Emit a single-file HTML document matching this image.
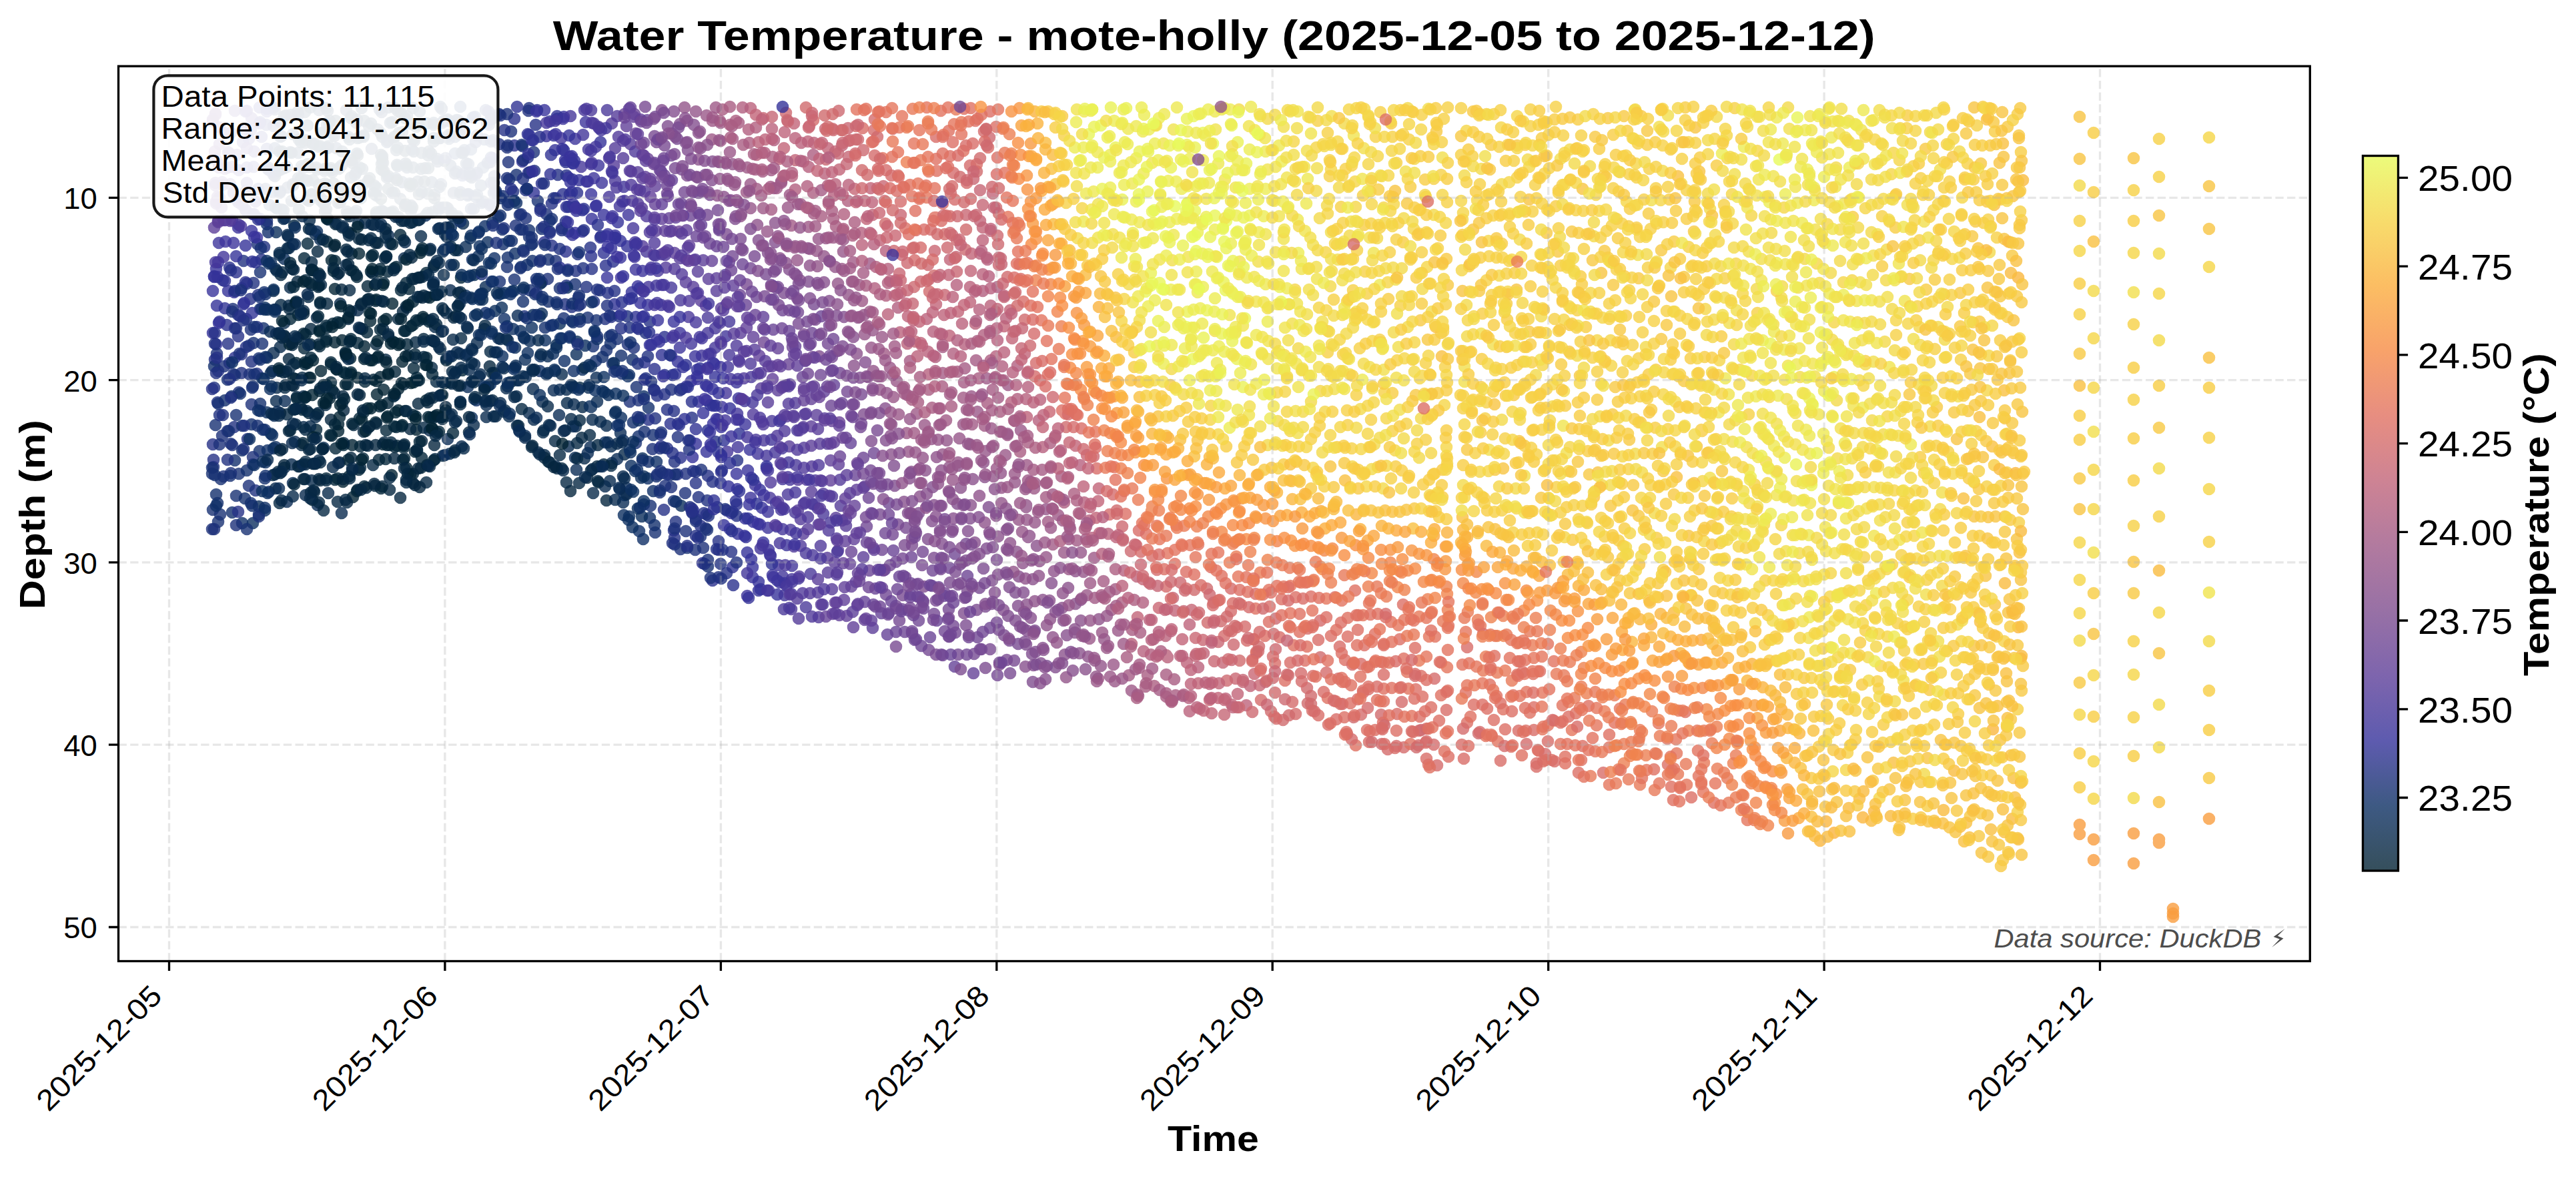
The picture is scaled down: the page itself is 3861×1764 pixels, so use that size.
<!DOCTYPE html><html><head><meta charset="utf-8"><style>html,body{margin:0;padding:0;background:#fff;width:3861px;height:1764px;overflow:hidden}svg{display:block}text{font-family:"Liberation Sans",sans-serif}</style></head><body><svg width="3861" height="1764" viewBox="0 0 3861 1764"><rect width="3861" height="1764" fill="#fff"/><defs><linearGradient id="cb" x1="0" y1="1" x2="0" y2="0"><stop offset="0.0000" stop-color="#032333"/><stop offset="0.0909" stop-color="#0d3064"/><stop offset="0.1818" stop-color="#35329b"/><stop offset="0.2727" stop-color="#5d3e99"/><stop offset="0.3636" stop-color="#7e4d8f"/><stop offset="0.4545" stop-color="#9e5987"/><stop offset="0.5455" stop-color="#c16479"/><stop offset="0.6364" stop-color="#e17161"/><stop offset="0.7273" stop-color="#f68b45"/><stop offset="0.8182" stop-color="#fbad3c"/><stop offset="0.9091" stop-color="#f6d346"/><stop offset="1.0000" stop-color="#e7fa5a"/></linearGradient></defs><g fill="none" stroke-width="18.6" stroke-linecap="round" stroke-opacity="0.8"><path d="M639 600h0M661 592h0M616 489h0M603 637h0M624 644h0M574 666h0M528 667h0M510 484h0M564 449h0M588 455h0M570 565h0M669 540h0M529 745h0M556 407h0M475 621h0M523 714h0M494 597h0M447 472h0M546 519h0M502 513h0M502 433h0M575 481h0M599 515h0M540 492h0M507 646h0M457 543h0M554 639h0M558 540h0M525 537h0M607 616h0M497 390h0M565 591h0M555 481h0M481 556h0" stroke="#032333"/><path d="M551 429h0M575 424h0M579 645h0M595 668h0M503 672h0M490 491h0M542 455h0M897 723h0M526 558h0M547 572h0M592 557h0M541 297h0M503 336h0M628 570h0M590 594h0M569 609h0M545 618h0M474 644h0M435 645h0M581 407h0M453 614h0M691 416h0M490 362h0M502 719h0M538 704h0M609 424h0M601 435h0M496 573h0M479 586h0M526 508h0M456 522h0M668 615h0M604 689h0M578 688h0M693 555h0M622 677h0M461 365h0M608 306h0M571 298h0M456 387h0M559 382h0M620 552h0M623 624h0" stroke="#042539"/><path d="M607 226h0M551 668h0M572 246h0M466 493h0M526 467h0M765 573h0M505 554h0M573 729h0M519 288h0M880 716h0M895 699h0M487 317h0M522 348h0M605 576h0M530 637h0M629 445h0M609 459h0M597 478h0M458 420h0M617 386h0M480 720h0M612 533h0M909 750h0M734 549h0M478 516h0M582 504h0M429 557h0M652 624h0M798 668h0M619 724h0M615 711h0M514 594h0M515 615h0M496 629h0M682 675h0M644 699h0M433 538h0M703 648h0M527 380h0M490 455h0M469 405h0M651 667h0M414 500h0M855 736h0M476 377h0M526 686h0" stroke="#05263e"/><path d="M582 264h0M487 253h0M574 317h0M597 325h0M452 667h0M506 752h0M549 731h0M458 270h0M500 275h0M480 296h0M478 428h0M438 577h0M453 566h0M430 621h0M448 314h0M458 696h0M420 709h0M629 416h0M738 600h0M654 572h0M647 551h0M635 535h0M493 185h0M534 412h0M524 435h0M623 513h0M647 510h0M553 360h0M735 527h0M628 291h0M639 723h0M559 697h0M832 661h0M872 656h0M664 683h0M640 697h0M578 539h0M440 404h0M461 188h0M591 289h0M536 591h0M506 411h0M691 507h0M839 682h0" stroke="#062844"/><path d="M652 490h0M635 478h0M433 458h0M536 207h0M640 185h0M632 229h0M509 251h0M445 506h0M618 333h0M936 681h0M535 179h0M573 205h0M652 442h0M455 640h0M534 258h0M435 431h0M858 578h0M415 581h0M464 330h0M478 690h0M457 718h0M650 400h0M757 615h0M677 575h0M455 594h0M669 469h0M876 687h0M519 397h0M929 733h0M480 219h0M457 214h0M727 581h0M426 484h0M684 631h0M816 682h0M823 637h0M889 739h0M850 604h0M873 610h0M425 315h0M863 639h0M547 334h0M431 372h0M499 700h0M527 240h0M561 278h0M542 162h0M501 204h0M755 552h0" stroke="#08294a"/><path d="M617 186h0M601 169h0M670 205h0M650 207h0M644 645h0M626 272h0M463 250h0M694 335h0M914 721h0M664 377h0M686 375h0M759 508h0M708 525h0M689 530h0M645 373h0M457 168h0M917 694h0M556 185h0M591 205h0M675 435h0M793 619h0M410 621h0M473 351h0M437 696h0M413 403h0M423 227h0M813 602h0M799 583h0M888 629h0M909 638h0M718 564h0M691 477h0M925 665h0M743 568h0M408 556h0M458 742h0M651 292h0M775 638h0M833 699h0M852 669h0M711 546h0M410 529h0M582 353h0M571 336h0M432 354h0M482 199h0M631 253h0M609 248h0M619 209h0M729 625h0M607 363h0M507 304h0M512 769h0" stroke="#092b4f"/><path d="M411 464h0M582 161h0M675 248h0M647 273h0M603 273h0M677 319h0M788 565h0M436 172h0M478 277h0M728 430h0M882 581h0M839 584h0M410 672h0M711 412h0M447 229h0M427 601h0M885 670h0M930 649h0M934 753h0M504 222h0M430 752h0M476 757h0M787 653h0M619 162h0M895 602h0M859 639h0M534 316h0M864 704h0M671 658h0M610 251h0M421 254h0M668 341h0M679 353h0M543 278h0M585 184h0M772 551h0" stroke="#0a2c55"/><path d="M655 238h0M839 485h0M752 461h0M638 323h0M832 556h0M718 502h0M478 165h0M420 183h0M694 229h0M420 287h0M439 276h0M460 299h0M519 165h0M719 449h0M698 443h0M736 395h0M701 580h0M865 512h0M1021 758h0M956 762h0M717 384h0M794 511h0M414 348h0M812 470h0M690 292h0M426 388h0M707 626h0M772 521h0M662 163h0M557 223h0" stroke="#0b2e5b"/><path d="M663 184h0M952 706h0M658 314h0M942 779h0M924 555h0M923 590h0M903 586h0M390 616h0M873 554h0M810 534h0M829 530h0M907 663h0M931 626h0M949 737h0M439 201h0M731 363h0M760 489h0M780 496h0M817 510h0M397 765h0M379 784h0M753 534h0M706 353h0M420 205h0M756 439h0M791 529h0M797 491h0M905 565h0" stroke="#0c2f60"/><path d="M686 180h0M857 481h0M993 709h0M971 717h0M809 556h0M737 500h0M958 796h0M943 562h0M813 449h0M965 594h0M714 600h0M772 380h0M842 507h0M891 498h0M974 776h0M363 784h0M747 325h0M727 339h0M979 736h0M702 246h0" stroke="#0f3066"/><path d="M390 463h0M715 259h0M731 244h0M817 491h0M728 469h0M790 397h0M726 209h0M397 644h0M377 636h0M972 692h0M743 286h0M389 676h0M398 441h0M397 717h0M960 626h0M914 504h0M893 541h0M793 345h0M796 367h0M403 737h0M754 366h0M400 336h0M404 307h0M713 295h0M948 539h0M347 594h0M324 741h0M348 768h0M753 344h0M352 690h0M402 254h0M690 160h0M395 492h0M784 452h0" stroke="#13306d"/><path d="M806 301h0M691 197h0M881 476h0M810 390h0M794 435h0M834 453h0M867 446h0M398 283h0M953 664h0M966 647h0M762 303h0M749 422h0M358 710h0M380 514h0M812 423h0M341 569h0M909 525h0M760 400h0M889 519h0M1030 821h0M975 758h0M982 798h0M354 743h0M376 754h0M388 537h0M323 637h0M774 262h0M319 764h0M327 782h0M354 622h0M812 343h0" stroke="#183173"/><path d="M819 321h0M349 463h0M693 263h0M833 391h0M899 435h0M713 213h0M333 653h0M741 264h0M944 602h0M335 714h0M320 700h0M377 606h0M773 338h0M1054 821h0M1011 816h0M346 665h0M786 474h0M735 308h0M950 521h0M728 165h0M788 327h0M762 243h0M997 728h0M978 673h0M376 494h0M766 197h0" stroke="#1d3179"/><path d="M788 285h0M369 478h0M928 474h0M907 478h0M874 402h0M1077 865h0M857 460h0M748 216h0M351 640h0M362 432h0M380 424h0M379 696h0M1075 760h0M1060 750h0M365 391h0M982 627h0M385 560h0M362 559h0M1038 769h0M1019 585h0M980 584h0M968 567h0M383 735h0M396 370h0M1083 824h0M890 452h0M352 492h0M750 173h0M733 187h0M371 658h0M334 622h0M849 428h0M326 603h0M793 162h0M968 499h0M944 491h0M321 581h0M1016 655h0M1080 845h0" stroke="#213180"/><path d="M827 368h0M974 482h0M400 163h0M1061 713h0M1039 706h0M1015 711h0M851 404h0M921 436h0M399 187h0M990 651h0M319 666h0M862 310h0M375 448h0M362 531h0M344 544h0M327 556h0M322 539h0M392 389h0M400 223h0M842 342h0M836 262h0M1010 795h0M1050 788h0M996 591h0M885 371h0M1077 811h0M1037 626h0M1016 635h0M1010 616h0M791 236h0M1000 672h0M1105 690h0M342 515h0M995 764h0M1059 771h0" stroke="#263186"/><path d="M848 377h0M1080 724h0M908 398h0M1066 669h0M771 218h0M858 269h0M1061 645h0M996 505h0M329 482h0M792 259h0M966 543h0M771 178h0M996 562h0M1020 686h0M1099 877h0M848 243h0M1053 844h0M1081 707h0M812 275h0M354 408h0" stroke="#2a318d"/><path d="M953 475h0M1098 850h0M1085 660h0M1108 650h0M992 532h0M921 456h0M1049 552h0M799 210h0M1094 793h0M1126 716h0M824 182h0M976 517h0M1103 751h0M905 379h0" stroke="#2f3293"/><path d="M325 458h0M911 351h0M930 361h0M1105 733h0M833 297h0M1047 602h0M1094 612h0M832 225h0M1016 542h0M1140 883h0M1120 828h0M342 436h0M864 316h0M324 516h0M1117 777h0M1096 769h0M879 272h0M943 448h0M1118 805h0M926 333h0M900 213h0M1043 665h0M1038 685h0M326 415h0M1068 583h0M1054 619h0" stroke="#343299"/><path d="M971 457h0M930 386h0M1084 567h0M1069 608h0M1107 629h0M1165 891h0M1128 865h0M1128 850h0M1164 789h0M1155 833h0M1144 813h0M862 349h0M956 429h0M1081 640h0M1036 571h0M905 322h0M381 355h0M1139 734h0M1142 761h0M379 321h0M845 175h0M1010 482h0M816 165h0M327 393h0M887 328h0" stroke="#38339b"/><path d="M878 183h0M952 367h0M1107 597h0M854 291h0M1104 573h0M350 364h0M328 364h0M1139 786h0M902 274h0M953 404h0M975 404h0M1076 629h0M862 208h0M819 204h0M1179 817h0M1125 746h0M1019 499h0M1158 862h0M1120 893h0" stroke="#3d349b"/><path d="M991 457h0M1156 659h0M1187 848h0M1167 847h0M995 427h0M1071 546h0M841 207h0M1052 507h0M1136 680h0M1088 504h0M1052 533h0M935 280h0M882 224h0M1036 515h0M1173 864h0M381 227h0M931 416h0M1106 670h0M383 302h0" stroke="#42369a"/><path d="M898 192h0M1128 603h0M1186 890h0M370 251h0M972 430h0M1091 550h0M1093 482h0M1072 492h0M1184 719h0M876 165h0M1162 678h0M1171 764h0M1072 521h0M363 307h0M350 289h0M1172 696h0M1187 868h0M364 213h0M376 195h0M949 342h0M1088 589h0M1192 738h0M871 250h0M369 286h0M913 295h0M1090 677h0" stroke="#46379a"/><path d="M969 377h0M936 301h0M1205 755h0M1133 659h0M1126 565h0M1245 783h0M1185 794h0M348 330h0M1157 631h0M1139 626h0M1218 832h0M1154 746h0M1020 450h0M922 271h0M1193 697h0M1032 475h0M887 244h0M1215 860h0" stroke="#4b399a"/><path d="M969 324h0M1226 762h0M1176 646h0M1203 889h0M1200 818h0M1232 721h0M927 205h0M1233 906h0M1186 913h0M1230 818h0M1125 545h0M981 364h0M1104 518h0" stroke="#503a9a"/><path d="M1260 758h0M917 185h0M992 381h0M956 305h0M1254 807h0M377 177h0M1226 888h0M998 401h0M1022 411h0M1192 604h0M1227 925h0M1259 719h0M1209 719h0M1205 671h0M920 248h0M1217 699h0M944 256h0M1234 740h0M1089 456h0M1200 778h0M1254 861h0M1108 542h0M1197 927h0M922 222h0M1227 786h0" stroke="#543b99"/><path d="M1274 739h0M1074 436h0M1029 389h0M1141 582h0M1247 883h0M1236 627h0M1262 780h0M1119 526h0M1204 800h0M1179 624h0M1039 430h0M1051 451h0M1240 836h0M1177 578h0M983 346h0M1229 665h0M1183 669h0M945 216h0M955 284h0M1087 412h0M1151 603h0M1204 640h0M1226 643h0M1206 621h0M1216 737h0" stroke="#593d99"/><path d="M1011 379h0M1054 390h0M346 199h0M348 250h0M1268 778h0M327 333h0M1174 579h0M1007 346h0M1110 499h0M334 277h0M1254 903h0M1062 418h0M1308 941h0M1294 835h0M1217 580h0" stroke="#5d3e99"/><path d="M1099 428h0M1158 568h0M1013 326h0M992 328h0M1280 808h0M328 246h0M1157 549h0M1138 533h0M1235 587h0M1248 920h0M1269 923h0M1285 907h0M1029 345h0M1250 663h0M1144 475h0M1124 479h0M992 306h0M975 295h0M1257 696h0M967 265h0M982 279h0M939 189h0M324 305h0M1279 940h0M343 229h0M1129 505h0" stroke="#614098"/><path d="M1296 729h0M1330 951h0M1281 758h0M1216 598h0M1250 577h0M1321 919h0M1264 844h0M1326 854h0M1289 862h0M1276 879h0M1275 664h0M1166 522h0M1296 929h0M1459 1009h0M1431 999h0M1051 337h0" stroke="#654297"/><path d="M936 171h0M951 171h0M970 180h0M1373 958h0M1074 369h0M1348 864h0M1258 633h0M1312 882h0M1207 541h0M1182 546h0M1309 906h0M1282 712h0M1159 494h0M1183 496h0M1303 855h0M1309 821h0M963 232h0M1093 393h0M1118 457h0M1203 565h0M1259 606h0M1394 955h0M1213 517h0M953 200h0M1276 827h0M1339 825h0" stroke="#694395"/><path d="M1134 445h0M1159 449h0M1356 947h0M1035 323h0M1365 874h0M1407 880h0M1306 769h0M329 191h0M323 170h0M1362 915h0M1384 912h0M1188 520h0M1366 835h0M980 246h0M996 263h0M1000 278h0M1450 863h0M1276 623h0" stroke="#6d4594"/><path d="M1321 729h0M1332 754h0M1310 679h0M1173 465h0M1413 982h0M1057 354h0M1465 955h0M1484 941h0M1423 954h0M1299 789h0M1332 771h0M1398 855h0M1423 851h0M322 227h0M1328 891h0M1377 930h0M1431 830h0M1375 894h0M1156 427h0M1343 842h0M1285 694h0M1145 513h0M1217 499h0M995 237h0M965 214h0" stroke="#704793"/><path d="M1196 468h0M1460 980h0M1436 981h0M1392 974h0M1060 322h0M1424 894h0M1422 913h0M1429 938h0M1422 954h0M1125 402h0M1343 908h0M1039 288h0M1247 535h0M1270 587h0M1259 559h0M1305 705h0M1498 993h0M1077 336h0M1383 827h0M1338 801h0M1076 315h0M1241 515h0M1400 920h0" stroke="#744992"/><path d="M1468 881h0M1119 426h0M1484 973h0M1197 485h0M1497 944h0M1513 960h0M1346 786h0M1439 846h0M1022 254h0M1015 208h0M1148 411h0M1064 292h0M1291 591h0M1448 815h0M1353 892h0M1279 566h0M996 218h0M981 204h0M1520 990h0M1220 456h0M1403 900h0M1243 488h0M1382 847h0M1514 1009h0M967 160h0" stroke="#784a91"/><path d="M1464 914h0M1486 905h0M1450 886h0M1222 479h0M1263 519h0M1306 618h0M1175 439h0M1110 358h0M1089 351h0M1356 817h0M1400 836h0M1424 873h0M1035 306h0" stroke="#7c4c90"/><path d="M1341 728h0M1445 919h0M1522 930h0M1487 870h0M1508 858h0M1538 966h0M1225 424h0M1385 879h0M1457 837h0M1479 822h0M1044 265h0M1031 225h0M1001 189h0M1377 769h0M1371 778h0M1228 534h0M1391 808h0M1548 1022h0M1195 447h0M1522 888h0M1427 797h0M1340 698h0" stroke="#804e8f"/><path d="M1504 914h0M1539 945h0M1398 730h0M1560 994h0M1582 1000h0M992 165h0M1241 470h0M1265 475h0M1137 360h0M1151 379h0M1183 404h0M1067 270h0M1068 242h0M1526 908h0M1435 755h0M1412 815h0M1454 777h0M1367 807h0M1243 451h0M1511 792h0M1162 363h0M1491 888h0" stroke="#834f8e"/><path d="M1363 717h0M1355 752h0M1537 999h0M1527 864h0M1599 952h0M1199 420h0M1400 757h0M1106 303h0M1327 612h0M1545 926h0M1567 1018h0M1429 777h0M1403 774h0M1279 505h0M1301 565h0M1050 222h0M1576 874h0M1563 971h0" stroke="#87508d"/><path d="M1379 744h0M1596 981h0M1618 979h0M1548 868h0M1336 681h0M1169 387h0M1047 239h0M1335 653h0M1554 818h0M1244 392h0M1202 371h0M1517 771h0M1085 295h0M1284 530h0M1620 930h0M1573 900h0M1524 827h0M1455 757h0M1592 911h0M1612 905h0M1476 715h0M1162 334h0M1049 197h0M1030 181h0M1601 881h0M1458 718h0M1440 731h0M1496 804h0M1280 548h0" stroke="#8b528c"/><path d="M1286 476h0M1088 245h0M1647 928h0M1551 901h0M1558 841h0M1533 844h0M1514 814h0M1580 856h0M1422 736h0M1574 928h0M1476 783h0M1317 564h0M1578 955h0M1135 337h0M1474 693h0M1336 636h0" stroke="#8f538b"/><path d="M1423 700h0M1641 990h0M1383 686h0M1624 951h0M1092 271h0M1109 249h0M1179 368h0M1501 754h0M1385 660h0M1319 584h0M1110 324h0M1500 709h0M1256 425h0M1272 442h0M1225 399h0M1538 757h0M1538 760h0M1598 1015h0M1026 161h0M1043 167h0" stroke="#92558a"/><path d="M1377 704h0M1449 694h0M1306 521h0M1362 677h0M1501 731h0M1521 723h0M1224 376h0M1539 779h0M1125 312h0M1568 763h0M1603 789h0M1454 666h0M1477 676h0M1406 659h0M1624 857h0M1532 797h0M1413 681h0M1238 357h0M1620 828h0M1308 495h0M1264 377h0" stroke="#965689"/><path d="M1409 715h0M1344 571h0M1334 551h0M1530 645h0M1526 700h0M1671 1021h0M1661 968h0M1652 948h0M1262 403h0M1465 617h0M1456 594h0M1386 637h0M1347 621h0M1339 595h0M1602 853h0M1125 276h0M1629 892h0M1653 895h0M1595 828h0M1301 489h0M1094 228h0" stroke="#9a5788"/><path d="M1360 592h0M1304 467h0M1511 577h0M1288 427h0M1359 649h0M1602 808h0M1304 395h0M1550 732h0M1541 720h0M1586 772h0M1260 358h0M1500 692h0M1212 340h0M1067 209h0M1068 181h0M1171 272h0M1640 836h0M1588 746h0M1374 620h0M1292 451h0M1184 292h0M1696 1035h0" stroke="#9d5987"/><path d="M1325 530h0M1575 701h0M1156 255h0M1628 808h0M1578 816h0M1279 393h0M1476 638h0M1499 647h0M1666 914h0M1141 293h0M1474 548h0M1186 338h0M1155 280h0M1457 636h0M1418 630h0M1571 782h0M1341 519h0M1680 936h0M1424 591h0" stroke="#a15a86"/><path d="M1413 559h0M1445 573h0M1549 704h0M1132 254h0M1708 996h0M1692 1012h0M1156 314h0M1672 883h0M1628 789h0M1654 871h0M1568 745h0M1364 541h0M1212 312h0M1097 189h0M1413 520h0M1488 584h0" stroke="#a55b84"/><path d="M1435 557h0M1376 603h0M1541 663h0M1484 496h0M1465 511h0M1467 567h0M1591 714h0M1499 617h0M1480 604h0M1253 339h0M1247 316h0M1412 579h0M1392 584h0M1762 1042h0M1748 1039h0M1720 1012h0M1709 948h0M1397 611h0M1748 1011h0M1231 324h0M1529 624h0M1529 677h0M1083 164h0M1569 723h0" stroke="#a95d82"/><path d="M1495 430h0M1492 565h0M1682 903h0M1700 899h0M1123 214h0M1610 740h0M1730 1028h0M1219 289h0M1661 834h0M1219 232h0" stroke="#ad5e81"/><path d="M1402 535h0M1146 229h0M1473 436h0M1328 443h0M1311 432h0M1321 404h0M1271 301h0M1588 677h0M1122 194h0M1525 548h0M1241 278h0M1725 981h0M1429 530h0M1265 321h0" stroke="#b25f7f"/><path d="M1392 561h0M1685 855h0M1212 250h0M1563 670h0M1446 516h0M1399 497h0M1619 697h0M1291 349h0M1538 598h0M1516 603h0M1625 753h0M1250 293h0M1493 534h0M1782 1046h0M1737 952h0M1187 264h0M1557 630h0M1484 472h0M1434 427h0M1468 464h0" stroke="#b6607e"/><path d="M1125 162h0M1360 515h0M1469 380h0M1236 260h0M1454 430h0M1389 478h0M1769 983h0M1192 207h0M1559 599h0M1540 559h0M1292 367h0M1755 946h0M1349 498h0M1748 982h0M1750 985h0M1334 421h0M1794 1060h0M1473 411h0M1485 458h0M1462 485h0M1696 965h0M1157 193h0" stroke="#ba627c"/><path d="M1704 864h0M1382 518h0M1168 238h0M1423 503h0M1350 439h0M1369 480h0M1522 496h0M1673 805h0M1648 799h0M1785 1004h0M1211 212h0M1147 209h0M1868 1057h0M1624 729h0M1726 929h0M1358 455h0M1454 453h0M1415 472h0" stroke="#be637a"/><path d="M1319 360h0M1258 254h0M1192 240h0M1581 656h0M1305 282h0M1514 465h0M1505 489h0M1409 412h0M1403 456h0M1816 960h0M1232 214h0M1646 751h0M1761 915h0M1296 301h0M1826 1046h0M1846 1056h0M1796 1024h0M1817 1023h0M1485 346h0M1469 331h0M1643 776h0M1536 530h0M1488 290h0M1455 406h0M1705 925h0M1436 467h0M1816 1069h0M1308 322h0M1612 668h0M1647 732h0M1175 222h0M1855 1040h0" stroke="#c26478"/><path d="M1724 875h0M1272 235h0M1281 283h0M1252 227h0M1833 993h0M1786 914h0M1863 1022h0M1180 180h0M1497 386h0M1433 385h0M1793 980h0M1758 896h0" stroke="#c56676"/><path d="M1144 177h0M1342 353h0M1350 322h0M1324 279h0M1434 407h0M1392 419h0M1416 442h0M1237 193h0M1792 956h0M1272 211h0M1737 911h0M1212 191h0M1217 169h0M1888 1027h0M1448 322h0M1401 376h0M1348 410h0M1573 617h0M1629 682h0M1880 1010h0M1710 846h0M1238 239h0" stroke="#c96773"/><path d="M1769 873h0M1447 374h0M1434 360h0M1294 225h0M1912 927h0M1370 430h0M1261 195h0M1695 826h0M1839 1020h0M1908 1016h0M1912 973h0M1496 366h0M1340 376h0M1544 518h0M1391 397h0M1483 206h0M1257 166h0M1849 966h0M1522 438h0" stroke="#cd6970"/><path d="M1790 884h0M1809 882h0M1979 985h0M1510 415h0M1598 640h0M1393 437h0M2070 1071h0M2012 1055h0M1536 479h0M1445 303h0M1425 290h0M1854 940h0M1923 1079h0M1905 1066h0M1858 990h0M1464 257h0M1830 931h0M1810 933h0M1497 320h0M1959 1031h0M1960 1054h0M1292 255h0M1236 173h0M1327 335h0M1370 371h0M2019 1100h0M1931 1012h0M1911 1038h0" stroke="#d06a6d"/><path d="M1748 879h0M1819 903h0M1416 351h0M1395 344h0M2150 1017h0M2040 1071h0M1413 305h0M1283 189h0M1311 179h0M1310 195h0M1845 882h0M1835 953h0M1942 1070h0M1890 1049h0M1328 255h0M1449 274h0M1429 259h0M1559 570h0M1710 827h0M1937 1052h0M1845 916h0M1424 324h0M1663 771h0M1371 390h0M1988 1008h0M2006 1017h0M1879 958h0M1883 977h0M1950 1009h0M2080 1123h0M2104 1120h0M2126 1117h0M2149 1116h0M1553 544h0M1979 930h0M2154 1147h0M1668 741h0M2288 1115h0M1350 302h0" stroke="#d46c6b"/><path d="M1934 993h0M1373 345h0M1530 418h0M1621 642h0M2040 995h0M2008 969h0M1344 286h0M1534 452h0M1644 702h0M2094 1070h0M2072 1093h0M2035 1048h0M2051 1033h0M1458 215h0M2276 1095h0M2299 1094h0M2199 970h0M1494 261h0M1403 205h0M1346 263h0M1464 246h0M1727 833h0M1911 994h0M1903 909h0M2403 1158h0M1918 955h0M1879 958h0M2191 1116h0M1976 1072h0M1960 942h0M2138 1137h0M2303 1149h0M2127 1095h0M1481 221h0M1338 193h0M2249 1140h0M2052 1112h0M2194 1137h0M1968 1013h0" stroke="#d86d68"/><path d="M1956 990h0M1357 342h0M2265 1119h0M2061 992h0M2016 989h0M2130 1013h0M2209 1056h0M2229 1062h0M2015 1075h0M2136 1066h0M2049 1094h0M1965 894h0M1942 895h0M1921 898h0M2122 1033h0M2132 1044h0M2372 1118h0M1424 234h0M1893 891h0M1815 850h0M2098 958h0M2074 967h0M2366 1158h0M1462 181h0M1484 167h0M2199 1083h0M1860 906h0M2045 967h0M1687 770h0M2093 1095h0M1896 953h0M1883 979h0M1495 236h0M2299 1060h0M1592 615h0M1597 620h0M1613 621h0M2500 1146h0M2326 1139h0M2256 1093h0M2103 906h0M1428 213h0M1745 853h0M2171 1134h0M2121 971h0" stroke="#dc6f65"/><path d="M2104 987h0M2569 1203h0M2031 885h0M1990 1046h0M2074 1032h0M1307 213h0M2171 938h0M2253 1063h0M2243 1043h0M2233 1026h0M2197 1038h0M1403 238h0M1444 226h0M1957 873h0M1870 887h0M1831 863h0M2362 1069h0M2381 1058h0M1422 196h0M1404 256h0M2268 1042h0M1718 800h0M2145 919h0M2065 920h0M2020 926h0M2003 944h0M1882 912h0M2061 950h0M1403 326h0M1401 326h0M1455 162h0M2025 1027h0M1959 969h0M1939 967h0M2479 1153h0M2293 1068h0M1790 861h0M2274 1011h0M2298 1010h0M2306 1125h0M1685 736h0M2508 1199h0M2170 1035h0M2032 1117h0M2346 1134h0M1761 845h0M2074 1051h0M2370 1139h0M1932 938h0" stroke="#df7062"/><path d="M1934 919h0M2245 1111h0M2227 1103h0M2329 991h0M2082 993h0M2109 1007h0M1388 278h0M1364 277h0M1555 460h0M2546 1163h0M2545 1125h0M1670 700h0M1994 1084h0M1367 294h0M2116 1073h0M2011 900h0M2098 1031h0M1328 168h0M2349 1115h0M2412 1120h0M1561 480h0M1914 878h0M2320 1087h0M2342 1081h0M2420 1083h0M1526 377h0M2263 986h0M2286 989h0M2288 1037h0M1796 816h0M1772 818h0M1750 829h0M2085 932h0M2320 965h0M2151 954h0M1868 865h0M1410 166h0M1528 396h0M2202 994h0M1323 237h0M1576 538h0M2147 1090h0M1295 165h0M1509 296h0M2160 993h0M1548 437h0M1967 915h0" stroke="#e2735f"/><path d="M1642 647h0M2553 1187h0M1389 296h0M1988 897h0M2391 1126h0M1934 878h0M2197 947h0M2619 1229h0M2512 1108h0M2518 1179h0M2311 984h0M2312 1038h0M1712 784h0M1738 808h0M2105 929h0M2043 922h0M2234 951h0M2219 938h0M2142 954h0M1389 161h0M1511 325h0M1370 215h0M1346 228h0M2513 1129h0M1957 938h0M2412 1176h0M2486 1084h0M2356 1094h0M2393 1087h0M1378 195h0M1816 830h0M1734 788h0" stroke="#e5765c"/><path d="M2127 990h0M2591 1203h0M2554 1143h0M2210 1027h0M2457 1106h0M1380 240h0M2119 951h0M2554 1095h0M2384 1163h0M1441 183h0M2015 862h0M2127 924h0M1368 163h0M1433 164h0M1524 357h0M2426 1153h0M2244 1008h0M2223 1005h0M2516 1065h0M2457 1155h0M2458 1176h0M2293 946h0M2589 1166h0M2351 1052h0M2515 1160h0M1503 193h0M1871 847h0M2480 1184h0M2333 1010h0M2441 1168h0" stroke="#e77959"/><path d="M2353 992h0M1775 788h0M2434 1115h0M2420 1042h0M2405 1066h0M2488 1103h0M2476 1066h0M2436 1056h0M2566 1114h0M2297 967h0M2276 963h0M2200 917h0M1889 858h0M1528 338h0M2227 984h0M1843 843h0M2070 889h0M2574 1152h0M1922 847h0M1595 550h0M1359 191h0M2349 1021h0M1706 749h0" stroke="#ea7c56"/><path d="M1794 789h0M2170 914h0M2402 1045h0M2378 1039h0M2267 924h0M2245 918h0M1359 243h0M2444 1082h0M2610 1214h0M1848 815h0M2573 1089h0M2531 1095h0M1517 266h0M1391 182h0M1599 575h0M2467 1132h0M1995 873h0M2051 879h0M1945 851h0M1591 489h0M2140 898h0M2598 1144h0M2323 944h0M2339 972h0" stroke="#ec7f52"/><path d="M1553 420h0M2370 977h0M1753 778h0M1690 709h0M2374 1001h0M2641 1231h0M2456 1054h0M1630 607h0M2646 1179h0M2625 1174h0M1727 759h0M1726 766h0M2254 953h0M2098 856h0M1671 679h0M2443 1133h0M1550 399h0M1516 230h0M1900 839h0M1874 827h0" stroke="#ee824f"/><path d="M1914 811h0M1664 649h0M2611 1191h0M2156 873h0M2169 890h0M2034 853h0M2149 838h0M1585 467h0M2084 843h0M1979 849h0M2095 880h0M1520 248h0M2391 1017h0M1571 444h0" stroke="#f1854c"/><path d="M1997 822h0M1575 426h0M2213 857h0M1811 774h0M2134 872h0M2284 915h0M1831 797h0M2585 1116h0M2056 859h0M2212 888h0M2193 874h0M2324 915h0M1691 682h0M1982 853h0M2558 1063h0M2575 1070h0M2492 1044h0M2639 1141h0M1760 760h0M1613 559h0" stroke="#f38849"/><path d="M1954 815h0M1680 663h0M2520 1032h0M1862 787h0M1868 808h0M1546 366h0M1553 347h0M2380 941h0M1620 584h0M2231 884h0M2660 1214h0M1589 446h0M2121 852h0M1783 762h0M2261 899h0M2579 1046h0M2051 836h0" stroke="#f68b45"/><path d="M1976 820h0M2191 854h0M1830 762h0M2416 1006h0M2396 994h0M2480 1020h0M2456 1017h0M2435 1025h0M2032 817h0M2605 1111h0M1545 324h0M2361 952h0M2662 1190h0M2341 930h0M1572 404h0M2657 1156h0M2630 1120h0M2622 1099h0M1607 531h0M1562 383h0M2593 1088h0M1652 612h0" stroke="#f78f44"/><path d="M1935 810h0M2539 1031h0M2563 1027h0M2304 900h0M1545 302h0M2084 824h0M1614 469h0M2256 874h0M2594 1058h0M2365 916h0M1540 284h0" stroke="#f79343"/><path d="M1634 561h0M2391 968h0M1849 750h0M1528 162h0M1908 781h0M1539 263h0M1749 717h0M1610 444h0M2127 830h0M2166 853h0M1741 737h0" stroke="#f89642"/><path d="M1660 596h0M1640 586h0M1894 757h0M2435 1000h0M2011 806h0M1883 776h0M1625 487h0M1974 797h0M1545 215h0M1812 749h0M2167 819h0M1952 792h0" stroke="#f89a41"/><path d="M2196 833h0M2319 885h0M2647 1098h0M2533 995h0M2675 1230h0M1674 619h0M2416 981h0M1623 511h0M2617 1054h0M1542 234h0M1728 697h0M3117 1236h0M3117 1250h0M3138 1258h0M3138 1289h0M3198 1249h0M3198 1294h0M3236 1258h0M3236 1263h0M3311 1227h0M3257 1362h0" stroke="#f99e40"/><path d="M1596 429h0M2587 1025h0M2665 1121h0M1874 746h0M2401 903h0M2634 1076h0M1714 676h0M1531 188h0M2682 1196h0M2658 1078h0" stroke="#f9a23f"/><path d="M2381 905h0M2339 881h0M2668 1095h0M2050 810h0M2477 990h0M2497 989h0M2558 993h0M1794 718h0M1627 439h0M2348 897h0M2245 850h0M2268 852h0M2307 863h0M1645 503h0M1659 564h0M2641 1057h0M1571 360h0M1690 641h0M2417 926h0" stroke="#faa63e"/><path d="M2464 967h0M1929 772h0M2093 795h0M1561 286h0M2581 993h0M1814 726h0M1836 732h0M2696 1226h0M2432 974h0M2431 947h0M1643 529h0M1996 787h0M1651 552h0M2149 803h0M2550 959h0" stroke="#fbaa3d"/><path d="M1682 596h0M1951 768h0M1971 769h0M1575 308h0M1607 414h0M1772 712h0M2475 936h0M1739 674h0M2670 1063h0M2527 961h0M1904 730h0M2690 1121h0M1588 365h0" stroke="#fbae3c"/><path d="M2626 995h0M2606 1001h0M1551 167h0M2071 788h0M2366 878h0M1758 678h0M2288 849h0M2642 1030h0M1647 460h0M2749 1248h0M1555 185h0M2504 954h0M2248 828h0M2039 793h0M1706 617h0M1676 572h0" stroke="#fab33d"/><path d="M2901 1233h0M2190 813h0M2193 794h0M2678 1136h0M2475 955h0M2033 771h0M3025 416h0M2519 979h0M2737 1231h0M2446 962h0M2441 926h0M2458 928h0M2661 1042h0M2619 1020h0M2987 1093h0M1937 748h0M2809 1216h0M1727 650h0M2728 1260h0M1605 395h0M1813 685h0M3025 940h0" stroke="#fab73f"/><path d="M2938 1239h0M2834 1223h0M2929 1155h0M1673 505h0M3016 1227h0M2576 947h0M2545 927h0M2509 918h0M2498 926h0M2350 861h0M3032 270h0M1579 336h0M1627 412h0M2311 842h0M1649 440h0M2805 1230h0M2713 1246h0M2787 1197h0M2771 1211h0M1603 375h0M1936 721h0M1578 232h0M1567 214h0M3029 987h0M2567 965h0M1818 687h0M2003 752h0M2228 818h0M3005 874h0M2400 883h0M3236 855h0" stroke="#f9bb40"/><path d="M2838 1143h0M2986 669h0M1886 711h0M2192 775h0M2513 715h0M2958 1189h0M3020 1195h0M3004 1247h0M3025 1258h0M2515 264h0M2596 959h0M2987 1004h0M2365 845h0M2076 765h0M2689 1093h0M2118 792h0M3004 585h0M3027 828h0M2380 858h0M1708 572h0M2161 534h0M1790 684h0M2715 1224h0M2968 932h0M3002 215h0M2241 793h0M1769 659h0M1708 595h0M2944 1261h0M1656 475h0M1748 653h0M2772 1246h0M3008 1089h0M3002 1213h0M2498 893h0M2473 903h0M2152 490h0M3018 1166h0M1576 253h0M3011 1050h0M2967 625h0M3117 578h0M3138 362h0M3236 1202h0M3311 536h0" stroke="#f9c041"/><path d="M2646 998h0M3031 617h0M2922 1240h0M2856 1224h0M2531 803h0M2605 890h0M2889 1136h0M2933 658h0M3007 674h0M1943 692h0M1906 701h0M2959 968h0M3017 294h0M2699 1151h0M2735 1163h0M2192 436h0M2530 683h0M2352 527h0M3032 710h0M2389 745h0M2967 1061h0M2395 708h0M2980 1187h0M3000 1193h0M2457 846h0M2527 912h0M3010 918h0M3026 912h0M2055 765h0M2098 767h0M2372 283h0M2208 344h0M3012 898h0M2981 1026h0M2547 257h0M2959 774h0M2980 775h0M3005 774h0M3023 808h0M1582 276h0M3013 363h0M2292 299h0M3005 627h0M1795 660h0M2706 1133h0M1736 624h0M3027 1134h0M1672 446h0M3015 656h0M2259 802h0M2965 372h0M2969 452h0M2273 434h0M2541 191h0M1958 741h0M2976 863h0M2832 1183h0M2968 552h0M3029 869h0M2961 1163h0M2998 1109h0M2253 702h0M2855 1199h0M2957 524h0M2400 409h0M2277 661h0M2709 1190h0M3012 559h0M1994 699h0M3027 251h0M2997 244h0M3008 1021h0M2923 1173h0M3001 327h0M2746 1183h0M2990 906h0M1650 414h0M2736 1209h0M2753 1202h0M3001 168h0M2505 444h0M3030 1281h0M2846 1244h0M2841 1166h0M3032 763h0M3117 175h0M3117 238h0M3117 763h0M3138 950h0M3198 237h0M3198 842h0M3236 323h0M3236 979h0M3311 279h0M3311 343h0" stroke="#f8c442"/><path d="M2342 178h0M2410 177h0M2434 174h0M2886 223h0M2858 257h0M2969 1219h0M2953 1223h0M2879 1225h0M2582 889h0M2815 1152h0M2863 1141h0M2459 633h0M2417 621h0M3029 684h0M1999 730h0M2982 970h0M2978 302h0M2307 217h0M2235 217h0M2715 1166h0M2217 436h0M2399 534h0M2524 571h0M2421 580h0M2295 766h0M2129 480h0M2170 427h0M2109 305h0M2980 406h0M2442 659h0M2418 888h0M3011 440h0M3030 453h0M2540 302h0M2566 930h0M1592 174h0M1571 167h0M2269 592h0M2990 813h0M2892 1034h0M2967 1002h0M2120 762h0M2258 520h0M2509 741h0M2456 773h0M2719 1074h0M2740 1077h0M2448 727h0M1596 343h0M2967 482h0M2938 439h0M2914 441h0M2955 584h0M3028 581h0M2088 295h0M2862 418h0M2693 1040h0M2342 452h0M2969 601h0M2950 616h0M2929 618h0M2456 417h0M2405 376h0M2387 390h0M1754 577h0M2903 610h0M2117 601h0M2233 254h0M2357 809h0M2410 835h0M2368 563h0M1801 651h0M2490 375h0M1758 623h0M2978 1138h0M2939 1118h0M2917 1116h0M3024 967h0M2981 949h0M2983 218h0M2969 245h0M2961 332h0M2748 1124h0M2945 351h0M2292 497h0M2460 174h0M2335 377h0M2332 365h0M2960 684h0M2524 415h0M2490 508h0M2680 1011h0M2704 1016h0M2733 1026h0M2485 874h0M2443 889h0M2468 752h0M2966 1253h0M2920 894h0M2953 560h0M3030 330h0M3020 851h0M2153 197h0M3023 747h0M2391 205h0M2984 1162h0M2780 1186h0M2353 487h0M3016 383h0M2930 864h0M2546 853h0M2534 838h0M2980 1284h0M2534 892h0M2997 397h0M2588 337h0M2318 349h0M3030 1035h0M3011 1280h0M2999 1298h0M3009 190h0M2980 176h0M3006 984h0M3005 520h0M2994 569h0M3027 1098h0M2493 706h0M2140 509h0M2160 499h0M2996 1266h0M2773 1004h0M2498 487h0M2539 347h0M2566 788h0M2365 692h0M2428 494h0M2581 706h0M3005 797h0M2418 427h0M2699 1077h0M1878 689h0M2346 785h0M2469 196h0M2947 200h0M2555 743h0M3117 530h0M3117 717h0M3117 1023h0M3198 889h0M3236 641h0M3311 1166h0" stroke="#f7c943"/><path d="M2365 179h0M2441 339h0M2366 349h0M2876 245h0M2010 223h0M2662 990h0M1791 625h0M2913 1137h0M2481 641h0M2583 767h0M2133 726h0M2150 710h0M2168 645h0M1924 696h0M2869 996h0M2896 990h0M2358 732h0M2308 267h0M2962 288h0M2998 299h0M2502 299h0M2426 287h0M2286 217h0M2217 205h0M2627 911h0M2270 409h0M2477 680h0M2219 386h0M2202 399h0M2989 697h0M3008 708h0M2507 561h0M2482 554h0M2065 700h0M2092 699h0M2112 713h0M2348 760h0M2859 173h0M2984 1060h0M2229 765h0M1691 517h0M2954 405h0M2367 643h0M2428 870h0M2465 823h0M2990 437h0M2221 538h0M2265 551h0M2283 542h0M2426 845h0M2045 337h0M2004 670h0M2285 575h0M2967 803h0M2935 1039h0M2951 1018h0M2157 775h0M2336 285h0M2841 341h0M2391 674h0M2285 520h0M2228 327h0M2483 806h0M2828 1051h0M2117 539h0M2425 602h0M2206 616h0M2572 658h0M2878 685h0M2548 236h0M2543 260h0M2103 363h0M2942 177h0M2220 580h0M2558 399h0M2323 409h0M2066 284h0M2435 414h0M2872 1114h0M2889 1208h0M2887 596h0M2332 309h0M2155 589h0M2645 966h0M2861 1043h0M2915 381h0M2334 806h0M2251 365h0M2123 416h0M2609 918h0M1696 499h0M1838 669h0M2757 1084h0M2726 1119h0M1582 191h0M2509 362h0M2552 379h0M1778 611h0M3001 1135h0M2524 438h0M2563 424h0M2958 910h0M2913 941h0M2573 248h0M2960 217h0M2504 224h0M2481 213h0M2439 196h0M2418 202h0M2281 801h0M2984 339h0M2365 438h0M2369 414h0M2433 516h0M2081 448h0M3009 475h0M2990 464h0M1861 682h0M2538 871h0M2234 455h0M2222 470h0M2781 1108h0M2258 455h0M2259 479h0M2943 985h0M2580 504h0M2750 1036h0M2493 854h0M2425 357h0M2114 280h0M2980 838h0M2169 268h0M2346 608h0M2513 827h0M3002 752h0M2861 1169h0M2397 223h0M2377 490h0M2981 1117h0M2979 276h0M2365 603h0M2205 704h0M2518 388h0M2839 1070h0M2823 1086h0M2507 516h0M2504 539h0M2299 692h0M2534 537h0M2555 535h0M2623 970h0M2087 589h0M2535 892h0M2257 241h0M2921 1085h0M2935 1070h0M2129 234h0M3024 171h0M2990 197h0M2972 160h0M2435 792h0M2550 644h0M2551 646h0M2945 266h0M3029 228h0M2255 573h0M2238 587h0M2887 434h0M3013 540h0M2758 1013h0M2159 353h0M2318 233h0M2939 791h0M2924 281h0M1700 550h0M2930 813h0M2239 487h0M2945 1098h0M2596 747h0M2806 1097h0M2294 429h0M2962 751h0M2788 963h0M2909 344h0M2526 161h0M2368 623h0M2958 822h0M2512 316h0M3117 425h0M3117 623h0M3117 659h0M3117 1129h0M3117 1180h0M3138 199h0M3138 288h0M3138 889h0M3138 1074h0M3198 331h0M3198 551h0M3198 657h0M3198 720h0M3198 1133h0M3236 578h0M3311 581h0M3311 1035h0M3311 1094h0" stroke="#f7cd44"/><path d="M2877 360h0M1684 419h0M2794 835h0M2294 189h0M2388 171h0M2493 333h0M2474 343h0M2458 355h0M2423 328h0M2408 346h0M1975 181h0M2684 982h0M2578 814h0M2850 832h0M2944 836h0M2646 870h0M2524 640h0M2500 643h0M2949 645h0M2969 652h0M2540 765h0M2028 388h0M2345 563h0M2307 592h0M2918 976h0M2333 730h0M2322 252h0M2343 203h0M2321 202h0M2260 217h0M2650 922h0M2228 420h0M2375 530h0M2902 668h0M2920 677h0M2262 391h0M2243 386h0M2463 569h0M2045 708h0M2427 723h0M2372 758h0M2326 772h0M2251 765h0M2167 456h0M2800 870h0M2836 846h0M2232 291h0M2274 266h0M2441 703h0M2474 727h0M2496 726h0M2046 407h0M3024 1217h0M2427 645h0M2538 324h0M2528 285h0M2472 253h0M2433 234h0M2242 551h0M2405 804h0M2426 810h0M2440 830h0M2408 861h0M2004 343h0M2138 348h0M2630 726h0M1978 638h0M1965 658h0M1947 669h0M2108 635h0M2087 646h0M2026 672h0M2915 707h0M2940 709h0M2959 723h0M2978 729h0M2999 728h0M2872 1026h0M2112 445h0M2099 458h0M2142 766h0M2886 913h0M2867 1095h0M2822 1113h0M2405 250h0M2428 258h0M2453 266h0M2821 324h0M2865 341h0M2531 213h0M2314 706h0M2367 673h0M2297 317h0M2251 321h0M2530 746h0M2816 1032h0M3031 889h0M2094 540h0M2226 627h0M2445 597h0M2228 603h0M1598 304h0M2861 695h0M2884 709h0M2899 724h0M2311 644h0M2874 459h0M2963 188h0M2915 589h0M1655 375h0M1643 397h0M2049 440h0M2028 435h0M3026 783h0M2218 276h0M2797 907h0M2716 1038h0M2309 401h0M2364 465h0M2427 474h0M2600 162h0M2900 523h0M2993 356h0M2043 293h0M2373 316h0M2352 312h0M2311 305h0M2135 590h0M2169 573h0M2166 550h0M2207 234h0M2190 232h0M2664 957h0M2819 998h0M2376 816h0M2391 831h0M2874 633h0M2041 472h0M1990 528h0M2112 209h0M2087 205h0M2062 205h0M2588 915h0M1595 203h0M2531 370h0M2083 378h0M2546 443h0M2585 417h0M3004 961h0M2888 869h0M2949 245h0M2918 245h0M2879 267h0M2922 500h0M2304 798h0M2369 512h0M2070 467h0M1870 659h0M2513 875h0M2927 189h0M2010 310h0M1731 592h0M1738 604h0M2769 1128h0M2425 750h0M2271 499h0M2124 665h0M2999 846h0M2336 342h0M2218 171h0M2239 171h0M2456 537h0M2467 884h0M2526 180h0M2557 174h0M2859 783h0M2844 934h0M2959 879h0M2939 539h0M2410 784h0M2263 340h0M2149 268h0M2161 213h0M2164 178h0M2306 615h0M2517 849h0M2891 1172h0M2012 263h0M2026 248h0M2211 679h0M2099 165h0M2118 168h0M2038 522h0M2585 837h0M2400 575h0M2330 478h0M2986 260h0M2020 637h0M2533 837h0M2634 469h0M2621 621h0M2945 497h0M2268 198h0M2256 657h0M2295 671h0M1981 490h0M2479 481h0M2075 588h0M2294 164h0M2155 372h0M2781 1065h0M2701 1057h0M2370 203h0M2469 460h0M2147 621h0M2918 216h0M2019 615h0M2131 378h0M2662 890h0M2952 1048h0M2909 1008h0M2421 450h0M2137 544h0M2033 592h0M2732 972h0M2584 307h0M2842 502h0M2442 435h0M2975 891h0M3024 1063h0M2470 401h0M2891 292h0M2933 1011h0M2810 925h0M2855 1122h0M1999 449h0M2291 478h0M2069 168h0M2336 496h0M2290 818h0M2119 738h0M2170 161h0M2055 629h0M2966 706h0M2237 651h0M2190 162h0M2513 696h0M2189 592h0M2191 746h0M2884 932h0M2500 280h0M3117 331h0M3117 471h0M3198 285h0M3198 486h0M3198 599h0M3198 788h0M3198 961h0M3198 1075h0M3236 208h0M3236 265h0M3236 774h0M3311 656h0M3311 812h0" stroke="#f6d146"/><path d="M2902 361h0M2274 174h0M2318 183h0M2723 395h0M2835 261h0M2065 234h0M1973 221h0M2615 800h0M2554 811h0M2873 837h0M1939 212h0M1814 629h0M2869 803h0M2669 872h0M2629 890h0M2563 767h0M2169 695h0M2168 670h0M1987 378h0M2327 576h0M1980 719h0M1968 701h0M2940 961h0M2372 227h0M2941 296h0M2853 558h0M2454 307h0M2438 302h0M2198 196h0M2091 675h0M2688 934h0M2735 914h0M2743 894h0M2787 885h0M2247 413h0M2432 684h0M2511 669h0M2551 693h0M2415 548h0M2829 954h0M2792 934h0M2731 946h0M2549 578h0M2444 576h0M2027 699h0M2648 567h0M2626 563h0M2608 554h0M2401 727h0M2835 173h0M2205 731h0M2273 762h0M2159 431h0M2292 250h0M2129 314h0M2167 334h0M2152 743h0M2155 738h0M2067 406h0M2810 209h0M2447 865h0M2452 245h0M2312 547h0M2066 337h0M2119 343h0M2644 743h0M2601 693h0M1986 617h0M2048 729h0M2024 730h0M2652 595h0M2899 689h0M2674 311h0M2913 1041h0M1979 586h0M1929 617h0M1926 587h0M2912 911h0M2889 1093h0M2392 292h0M2395 268h0M2898 315h0M2915 302h0M2275 318h0M2190 355h0M2496 813h0M2464 794h0M2555 618h0M2530 611h0M2493 591h0M2791 700h0M2838 229h0M2847 240h0M2031 272h0M2081 263h0M2267 617h0M2278 629h0M2986 488h0M2323 630h0M2896 452h0M2796 312h0M2815 305h0M2978 585h0M2084 316h0M2019 452h0M1988 465h0M2933 769h0M2214 300h0M1934 646h0M2852 906h0M2602 395h0M2332 431h0M2402 476h0M2851 736h0M2651 161h0M2831 755h0M2397 316h0M2078 627h0M2736 995h0M2755 985h0M2837 1008h0M2898 390h0M2231 361h0M2829 624h0M2916 644h0M2008 509h0M2842 480h0M2139 400h0M2162 396h0M2642 797h0M2606 819h0M2054 183h0M2045 163h0M2022 164h0M1681 481h0M1826 651h0M2741 1100h0M2959 1132h0M2612 440h0M2562 332h0M2900 264h0M2457 211h0M2877 490h0M2860 485h0M2739 336h0M2786 389h0M1815 608h0M2384 439h0M2350 398h0M2195 636h0M2414 510h0M2394 510h0M2947 457h0M2246 438h0M2200 480h0M2032 310h0M2929 347h0M2894 949h0M2897 967h0M2317 499h0M2862 763h0M2309 381h0M2439 541h0M2749 483h0M2728 1019h0M2596 291h0M2625 323h0M2473 746h0M2433 378h0M2529 478h0M2865 940h0M2828 918h0M2943 882h0M2247 729h0M2817 1196h0M2552 721h0M2571 725h0M2594 722h0M1941 434h0M2589 237h0M2588 203h0M2570 208h0M2254 680h0M2057 511h0M2120 513h0M2231 706h0M2504 401h0M2981 533h0M2572 682h0M2634 226h0M2776 420h0M2300 460h0M2250 191h0M2162 292h0M2577 540h0M1995 254h0M1622 312h0M2762 1057h0M2596 271h0M3027 507h0M2165 607h0M2924 564h0M2809 1061h0M2887 1059h0M2059 603h0M2495 702h0M2767 1154h0M2661 808h0M2871 196h0M2848 192h0M2112 186h0M3029 1163h0M2882 540h0M1599 247h0M2758 1016h0M2132 563h0M2128 567h0M2960 1081h0M2590 870h0M2670 787h0M2921 328h0M2631 934h0M2486 429h0M2193 319h0M2556 463h0M2321 746h0M2940 518h0M2789 812h0M2469 660h0M2462 441h0M2190 301h0M2086 226h0M2882 819h0M2854 635h0M2280 385h0M2556 599h0M2130 194h0M2051 246h0M2242 747h0M2513 196h0M2322 518h0M3117 376h0M3117 813h0M3117 869h0M3117 919h0M3117 1071h0M3138 507h0M3138 581h0M3138 704h0M3138 763h0M3138 1012h0M3138 1141h0M3138 1197h0M3198 379h0M3198 1011h0M3236 440h0M3236 918h0M3311 206h0M3311 400h0M3311 733h0" stroke="#f5d647"/><path d="M1703 422h0M2687 802h0M2389 354h0M2744 409h0M2705 388h0M2599 371h0M2815 270h0M2015 185h0M1995 217h0M2727 424h0M2671 429h0M2670 446h0M2792 670h0M2776 687h0M2754 687h0M2893 835h0M2894 795h0M2823 816h0M2437 623h0M2398 624h0M2605 776h0M2353 224h0M2878 390h0M2668 936h0M2599 516h0M2451 680h0M2753 600h0M2698 565h0M2848 963h0M2884 173h0M2221 744h0M2585 446h0M2089 498h0M2110 490h0M2146 467h0M2817 860h0M2251 276h0M2290 239h0M2149 322h0M2416 706h0M2461 708h0M1994 429h0M2088 401h0M2015 410h0M2785 218h0M2389 652h0M2411 660h0M2839 772h0M2492 256h0M2086 335h0M2104 327h0M1922 668h0M1900 667h0M2073 732h0M2068 656h0M2052 670h0M1982 678h0M2616 275h0M2742 303h0M2302 562h0M1965 602h0M1953 617h0M1756 553h0M2569 479h0M2825 512h0M2844 1106h0M2331 690h0M2199 504h0M2566 558h0M2801 1020h0M2251 629h0M2511 602h0M2467 593h0M1615 357h0M2007 281h0M2056 267h0M1995 563h0M1951 555h0M2012 472h0M1915 631h0M1939 641h0M2781 909h0M2837 881h0M2851 889h0M2535 400h0M2579 399h0M2633 433h0M2384 467h0M2785 730h0M2829 731h0M2871 735h0M2878 517h0M2680 161h0M1911 172h0M2417 394h0M2023 353h0M2004 367h0M1730 570h0M1774 591h0M2876 576h0M2895 578h0M2807 759h0M2208 249h0M2800 985h0M2937 386h0M2731 769h0M2806 630h0M2849 616h0M2871 610h0M2893 639h0M2028 491h0M2836 463h0M2628 818h0M2697 829h0M2749 540h0M2565 364h0M2571 352h0M2947 920h0M2934 936h0M2560 290h0M2563 313h0M2904 858h0M2863 862h0M2937 227h0M2915 497h0M2779 649h0M2823 651h0M2785 341h0M2758 344h0M2982 378h0M2828 374h0M2352 397h0M2805 348h0M2877 974h0M2453 178h0M2127 686h0M2558 502h0M2885 757h0M2467 520h0M2795 484h0M2818 486h0M2615 302h0M2573 175h0M2480 769h0M2272 732h0M2752 251h0M2622 754h0M2278 359h0M2327 609h0M1863 632h0M2884 1160h0M2582 840h0M2908 763h0M2655 349h0M2813 599h0M2378 782h0M2132 433h0M2911 878h0M2578 676h0M2310 474h0M2601 630h0M2510 778h0M2574 747h0M1929 564h0M1932 456h0M2902 169h0M2893 198h0M1973 286h0M2787 570h0M2360 245h0M2769 712h0M2864 298h0M1978 327h0M1989 308h0M2919 460h0M2130 627h0M2783 793h0M2921 217h0M2758 391h0M1946 522h0M2039 613h0M2682 905h0M2840 525h0M2501 623h0M2383 249h0M2741 671h0M2339 710h0M2195 263h0M1942 253h0M2483 392h0M2322 747h0M2321 667h0M2779 1045h0M2756 754h0M2649 724h0M2344 586h0M2198 457h0M2852 211h0M2807 412h0M1975 161h0M2389 333h0M2714 700h0M2813 834h0M2124 645h0M2170 516h0M3117 278h0M3117 960h0M3138 436h0M3198 1196h0M3236 380h0M3236 510h0M3236 702h0M3236 1056h0M3236 1120h0M3311 961h0" stroke="#f3da4a"/><path d="M2857 372h0M1757 390h0M2731 816h0M2750 829h0M2771 825h0M2640 388h0M2621 377h0M2044 222h0M1996 174h0M1959 226h0M2829 445h0M1900 462h0M2596 802h0M2918 833h0M2734 861h0M2005 389h0M1968 367h0M2339 238h0M2738 501h0M2755 516h0M2786 542h0M2808 542h0M2475 300h0M2662 524h0M2491 670h0M2720 564h0M2675 569h0M2806 948h0M2770 928h0M2750 930h0M2711 956h0M2569 584h0M2817 165h0M2603 465h0M1711 523h0M2022 414h0M2766 206h0M2771 181h0M2818 780h0M2309 539h0M2025 332h0M2678 598h0M2691 619h0M2633 293h0M2000 583h0M2592 484h0M2642 620h0M2663 635h0M2691 666h0M2353 270h0M2884 332h0M2348 679h0M2220 500h0M2238 516h0M1939 232h0M2053 550h0M2074 554h0M2721 344h0M1637 364h0M2206 601h0M2820 240h0M2013 556h0M1977 550h0M2688 750h0M2618 670h0M2597 662h0M2841 708h0M2195 572h0M2195 549h0M2193 526h0M2935 594h0M2104 570h0M1952 554h0M2092 419h0M2212 313h0M1937 485h0M2622 169h0M2741 728h0M2763 734h0M2809 730h0M1924 190h0M1795 592h0M2693 721h0M2715 722h0M2786 766h0M2767 859h0M2098 614h0M2712 994h0M2853 1020h0M2713 893h0M2058 483h0M2033 467h0M2647 777h0M2677 826h0M1708 480h0M2604 425h0M2871 882h0M1925 377h0M1973 400h0M2759 642h0M2845 653h0M2808 383h0M2712 479h0M1614 279h0M2731 236h0M2455 382h0M2107 257h0M2508 467h0M2662 373h0M2613 736h0M1858 392h0M1873 609h0M2887 891h0M1886 392h0M2610 239h0M2232 674h0M2141 163h0M2072 523h0M2096 520h0M2053 356h0M2694 196h0M2632 357h0M1941 272h0M2835 603h0M2911 738h0M2624 488h0M2797 427h0M2500 173h0M1979 491h0M2710 277h0M2801 567h0M1821 496h0M2487 190h0M1944 192h0M1785 509h0M2840 792h0M2162 236h0M1968 442h0M2704 360h0M2285 713h0M1700 399h0M2632 249h0M2793 365h0M1725 498h0M2785 851h0M1931 510h0M2226 234h0M3138 647h0M3138 828h0M3198 438h0" stroke="#f1df4c"/><path d="M2846 395h0M1781 385h0M1738 389h0M2686 396h0M2029 203h0M2708 428h0M2783 451h0M2805 450h0M1883 452h0M2812 674h0M2847 809h0M2809 803h0M2712 869h0M2627 777h0M1956 346h0M1930 312h0M1910 301h0M1808 298h0M1836 269h0M2832 550h0M2763 889h0M2685 522h0M2622 508h0M2591 591h0M2658 264h0M2636 269h0M1744 215h0M1974 418h0M2343 638h0M2790 195h0M2747 182h0M1843 472h0M2621 704h0M2764 305h0M2786 296h0M1759 194h0M1822 194h0M1875 546h0M1776 542h0M2801 507h0M2780 514h0M2674 654h0M1900 254h0M2735 364h0M2676 334h0M2654 329h0M1917 324h0M2576 618h0M1678 356h0M1698 369h0M2713 754h0M2663 742h0M2651 702h0M2635 685h0M2855 451h0M2834 298h0M2840 420h0M1901 511h0M1936 537h0M1727 244h0M1954 496h0M2624 403h0M2640 420h0M2651 213h0M2767 777h0M2759 269h0M2793 238h0M1774 329h0M2774 979h0M1897 351h0M2716 839h0M2730 544h0M2705 541h0M2680 548h0M2059 379h0M1872 189h0M1888 202h0M1698 453h0M1951 403h0M2893 488h0M2804 653h0M1945 167h0M1837 608h0M2692 486h0M2766 363h0M2727 215h0M2755 229h0M1892 531h0M2740 462h0M2773 482h0M1880 415h0M2726 621h0M2702 589h0M2617 846h0M2642 529h0M2715 195h0M1924 358h0M1920 276h0M1852 281h0M2778 608h0M1625 260h0M2682 503h0M2652 478h0M2736 790h0M2679 847h0M1914 552h0M1949 467h0M1932 456h0M2896 199h0M1801 564h0M2701 238h0M1863 488h0M1646 306h0M1964 535h0M2731 521h0M1614 164h0M2022 538h0M2677 236h0M2805 181h0M1848 303h0M1965 200h0M2691 280h0M2624 536h0M2654 544h0M1748 457h0M2709 772h0M2684 355h0M2637 835h0M1655 334h0M1887 367h0M2741 163h0M3311 888h0" stroke="#f0e34e"/><path d="M1802 380h0M2711 802h0M2742 440h0M1897 227h0M1917 218h0M1945 329h0M1852 254h0M2769 530h0M2712 925h0M2734 586h0M1684 248h0M1703 237h0M1756 517h0M1734 518h0M2745 206h0M2725 174h0M2632 594h0M2694 304h0M2719 300h0M1818 525h0M1800 531h0M2713 680h0M2586 567h0M2701 334h0M1659 353h0M2670 718h0M1821 167h0M1691 193h0M1713 197h0M1745 171h0M1883 502h0M1917 526h0M2068 427h0M2812 889h0M1749 241h0M1714 260h0M1697 275h0M2663 176h0M1889 174h0M2672 215h0M1708 333h0M2716 894h0M1728 357h0M1639 287h0M1636 221h0M2864 666h0M1802 485h0M1793 279h0M1812 274h0M2659 668h0M2707 644h0M1897 426h0M1858 408h0M2792 611h0M1826 245h0M2659 497h0M2767 325h0M1883 575h0M1824 544h0M1960 268h0M2764 571h0M1851 500h0M1652 309h0M1624 332h0M2652 850h0M2765 664h0M1958 305h0M2733 650h0M1635 166h0M1823 586h0M2654 194h0M2686 775h0M2042 569h0M2701 460h0M2793 165h0M1764 161h0M2615 643h0M1803 240h0M1855 614h0M2707 408h0" stroke="#eee851"/><path d="M2663 394h0M2763 442h0M1859 445h0M2734 699h0M1873 224h0M2690 868h0M1847 231h0M2642 510h0M1795 348h0M1808 325h0M1799 462h0M1820 467h0M2652 303h0M1780 197h0M1835 527h0M1736 539h0M1904 591h0M1921 242h0M1894 324h0M1853 323h0M1821 344h0M1844 164h0M1670 181h0M1731 188h0M1845 365h0M2772 251h0M1683 325h0M1753 333h0M1780 304h0M1874 343h0M1721 459h0M1664 281h0M1611 221h0M1664 232h0M1755 434h0M1946 379h0M1745 490h0M1751 305h0M1751 271h0M1771 283h0M2675 686h0M2734 265h0M1843 641h0M1867 374h0M1897 283h0M1873 283h0M1645 251h0M1663 204h0M2614 220h0M1822 564h0M2709 254h0M2749 565h0M1783 238h0M1791 426h0M2757 706h0M2714 446h0M1711 161h0M1776 522h0M1900 482h0M1783 570h0M1690 216h0M1793 407h0M1886 299h0M2676 291h0M1859 559h0M1620 240h0" stroke="#ecec53"/><path d="M1725 409h0M1826 416h0M1827 289h0M1868 245h0M1855 213h0M1720 223h0M1766 218h0M1791 221h0M1780 467h0M1854 538h0M1873 323h0M1800 170h0M1779 178h0M1838 372h0M2715 727h0M1732 337h0M1655 236h0M2675 468h0M2645 650h0M1918 430h0M1665 161h0M1863 580h0M1747 354h0M1842 501h0M1855 347h0" stroke="#eaf155"/><path d="M1824 385h0M1837 435h0M1803 199h0M1632 201h0M1650 188h0M1791 316h0M1670 298h0M1738 424h0M1717 437h0M1707 291h0M1841 398h0M1846 188h0" stroke="#e9f558"/><path d="M1818 215h0M1838 331h0M1778 490h0M1730 315h0M2717 607h0" stroke="#e7fa5a"/><path d="M562 427h0M606 496h0M605 668h0M496 546h0M536 566h0M582 561h0M616 574h0M597 583h0M556 612h0M568 407h0M514 722h0M603 542h0M498 585h0M468 592h0M513 510h0M489 512h0M609 701h0M843 665h0M509 625h0M507 636h0M497 653h0M469 540h0M444 544h0M563 633h0M546 538h0M518 528h0M521 321h0M597 615h0M538 380h0M618 311h0M575 584h0M480 453h0M587 712h0M554 469h0M581 624h0M518 576h0" stroke="#032333"/><path d="M624 480h0M591 639h0M584 667h0M540 669h0M515 667h0M455 500h0M479 495h0M499 485h0M564 318h0M587 319h0M627 330h0M515 558h0M560 569h0M581 604h0M539 627h0M598 199h0M619 452h0M591 402h0M463 619h0M489 717h0M639 409h0M613 433h0M667 574h0M648 561h0M638 547h0M622 531h0M485 577h0M435 478h0M536 514h0M465 516h0M589 512h0M610 516h0M419 555h0M468 749h0M550 498h0M642 625h0M822 692h0M568 689h0M631 701h0M632 686h0M435 394h0M679 649h0M600 352h0M544 687h0" stroke="#042539"/><path d="M627 605h0M649 596h0M444 452h0M592 162h0M615 643h0M563 667h0M575 256h0M438 517h0M522 478h0M553 448h0M575 452h0M463 674h0M536 734h0M562 728h0M584 734h0M886 705h0M905 696h0M468 292h0M513 341h0M687 439h0M604 467h0M446 422h0M467 427h0M463 566h0M420 619h0M440 614h0M463 343h0M469 695h0M447 699h0M421 412h0M528 705h0M618 418h0M526 405h0M512 434h0M635 508h0M566 364h0M542 359h0M419 556h0M471 737h0M842 702h0M629 730h0M591 687h0M513 604h0M545 647h0M566 536h0M518 530h0M560 337h0M509 693h0M519 374h0M582 283h0M600 746h0M478 410h0M577 387h0M632 661h0M564 516h0" stroke="#05263e"/><path d="M662 497h0M421 457h0M607 177h0M635 641h0M636 272h0M497 255h0M606 331h0M676 370h0M677 534h0M518 749h0M469 270h0M868 724h0M485 305h0M546 181h0M662 437h0M474 656h0M443 636h0M869 581h0M427 581h0M443 568h0M423 673h0M782 613h0M501 369h0M710 573h0M488 607h0M680 476h0M663 462h0M503 181h0M896 667h0M469 216h0M738 559h0M419 754h0M455 466h0M574 493h0M485 765h0M674 623h0M663 625h0M609 723h0M865 664h0M884 652h0M690 606h0M652 688h0M847 645h0M869 630h0M578 343h0M642 252h0M563 291h0M467 393h0M426 503h0M849 723h0M660 523h0M441 338h0M462 445h0" stroke="#062844"/><path d="M645 480h0M545 203h0M594 225h0M646 230h0M666 241h0M655 649h0M573 234h0M452 249h0M536 465h0M698 533h0M632 375h0M490 277h0M509 280h0M530 293h0M492 329h0M527 174h0M566 194h0M465 639h0M410 436h0M426 701h0M409 712h0M467 720h0M658 394h0M821 609h0M690 578h0M445 595h0M513 227h0M439 744h0M641 290h0M807 678h0M815 645h0M665 412h0M683 558h0M420 520h0M674 680h0M856 628h0M537 336h0M439 366h0M419 379h0M710 637h0M475 476h0M619 251h0M600 298h0M510 455h0M500 402h0M535 230h0M552 271h0M492 739h0M774 594h0M631 354h0M679 509h0M740 624h0M680 397h0M701 492h0" stroke="#08294a"/><path d="M627 187h0M620 227h0M614 275h0M474 251h0M648 318h0M842 561h0M821 559h0M799 556h0M759 582h0M442 662h0M907 729h0M715 514h0M491 166h0M465 161h0M426 174h0M447 267h0M640 445h0M543 253h0M526 266h0M849 584h0M606 387h0M800 629h0M453 324h0M414 601h0M727 602h0M750 604h0M763 624h0M900 632h0M916 669h0M922 749h0M492 219h0M448 209h0M413 732h0M807 510h0M703 554h0M860 606h0M425 328h0M692 669h0M437 301h0M585 365h0M934 714h0M412 264h0M667 351h0M485 671h0M687 458h0" stroke="#092b4f"/><path d="M522 205h0M650 187h0M593 267h0M715 471h0M778 570h0M698 370h0M747 507h0M726 493h0M925 688h0M723 440h0M830 585h0M480 359h0M821 534h0M834 517h0M862 686h0M881 679h0M923 617h0M779 647h0M776 473h0M629 167h0M413 311h0M724 302h0M400 536h0M657 343h0M405 497h0M650 423h0M894 566h0M838 622h0M439 724h0" stroke="#0a2c55"/><path d="M401 464h0M660 207h0M961 716h0M742 466h0M669 311h0M686 324h0M431 281h0M406 650h0M963 687h0M934 593h0M912 592h0M701 415h0M435 228h0M809 592h0M934 660h0M939 731h0M936 742h0M962 774h0M722 373h0M388 759h0M745 528h0M799 472h0M884 609h0M886 610h0M680 289h0M701 293h0M710 313h0M596 249h0M767 437h0M430 250h0M676 340h0M787 539h0M864 531h0" stroke="#0b2e5b"/><path d="M569 164h0M869 478h0M946 698h0M935 772h0M948 790h0M447 172h0M944 674h0M708 448h0M892 585h0M405 583h0M400 618h0M403 395h0M393 567h0M886 549h0M877 518h0M735 576h0M393 736h0M769 493h0M785 505h0M718 347h0M398 693h0" stroke="#0c2f60"/><path d="M682 205h0M684 257h0M661 276h0M964 808h0M984 692h0M774 304h0M580 213h0M401 675h0M846 541h0M741 387h0M860 556h0M784 375h0M854 506h0M895 508h0M928 637h0M708 389h0M763 361h0M756 478h0M738 334h0M747 442h0M721 278h0" stroke="#0f3066"/><path d="M675 182h0M724 251h0M736 236h0M826 488h0M984 714h0M781 400h0M798 391h0M802 441h0M822 452h0M706 224h0M682 230h0M409 288h0M957 654h0M363 638h0M750 297h0M709 176h0M737 422h0M370 705h0M322 712h0M390 605h0M321 549h0M412 222h0M949 633h0M915 515h0M903 535h0M761 386h0M965 756h0M981 787h0M367 747h0M402 348h0M337 600h0M326 754h0M379 579h0M824 347h0M931 533h0M972 611h0M363 675h0" stroke="#13306d"/><path d="M827 328h0M704 264h0M894 480h0M845 477h0M410 161h0M1004 712h0M822 389h0M932 560h0M918 545h0M784 434h0M736 212h0M715 203h0M979 652h0M386 638h0M740 274h0M393 515h0M804 418h0M352 562h0M925 508h0M797 356h0M1010 751h0M1060 794h0M370 793h0M763 269h0M390 408h0M839 432h0M862 426h0M779 322h0M330 771h0M989 735h0M410 262h0M1061 849h0M954 580h0M771 419h0" stroke="#183173"/><path d="M810 313h0M1051 704h0M867 458h0M760 221h0M341 646h0M329 666h0M957 600h0M370 425h0M379 685h0M346 709h0M722 411h0M336 549h0M325 530h0M1087 763h0M821 418h0M374 561h0M350 561h0M783 344h0M1042 824h0M1020 823h0M1043 781h0M976 572h0M373 728h0M744 364h0M1027 739h0M388 774h0M354 787h0M386 366h0M941 516h0M800 228h0M760 171h0M358 588h0M321 793h0M1006 730h0M989 672h0M1061 839h0M1028 796h0" stroke="#1d3179"/><path d="M839 373h0M940 474h0M1028 710h0M863 406h0M1104 843h0M410 189h0M847 456h0M783 219h0M852 310h0M387 442h0M1047 745h0M910 458h0M1013 782h0M1034 760h0M1006 584h0M377 542h0M801 256h0M784 268h0M956 545h0M971 534h0M738 178h0M736 174h0M1033 674h0M1011 692h0M341 689h0M866 381h0M385 490h0M879 430h0M769 287h0" stroke="#213180"/><path d="M357 472h0M916 475h0M1068 722h0M887 403h0M1089 859h0M827 305h0M911 439h0M1073 662h0M387 283h0M320 689h0M369 520h0M1104 773h0M972 629h0M852 347h0M848 332h0M849 263h0M1011 806h0M985 593h0M1096 827h0M1074 823h0M803 187h0M357 504h0M1000 614h0M1043 724h0M1008 562h0M357 767h0M1008 679h0M957 493h0M931 492h0M1046 806h0M756 195h0" stroke="#263186"/><path d="M816 363h0M963 475h0M919 392h0M839 401h0M1068 870h0M865 289h0M844 291h0M390 183h0M1037 602h0M875 313h0M352 536h0M932 453h0M809 205h0M886 384h0M1005 635h0M340 487h0M805 165h0M334 420h0M896 337h0M344 401h0M981 553h0" stroke="#2a318d"/><path d="M800 289h0M337 462h0M378 469h0M900 356h0M826 232h0M845 225h0M1070 750h0M378 392h0M1157 845h0M873 347h0M825 261h0M791 201h0M1134 755h0M835 178h0M1026 628h0M783 242h0M1034 660h0M1058 577h0M1094 694h0M1081 682h0M392 205h0M1043 643h0M775 160h0" stroke="#2f3293"/><path d="M940 369h0M1092 729h0M1059 677h0M1072 565h0M1006 533h0M1024 550h0M1137 872h0M1126 838h0M351 438h0M366 454h0M354 384h0M868 270h0M947 438h0M1061 551h0M1045 564h0M1029 579h0M853 203h0M830 203h0M1085 787h0M1106 800h0M390 328h0M1077 589h0M861 241h0M858 238h0M893 309h0M319 499h0M368 368h0" stroke="#343299"/><path d="M922 353h0M960 454h0M986 480h0M389 161h0M1059 600h0M380 250h0M1129 782h0M965 437h0M1069 635h0M1124 674h0M377 346h0M1121 705h0M1123 756h0M1165 870h0M1019 475h0M886 291h0M324 403h0M319 436h0M1104 710h0M911 370h0M910 416h0" stroke="#38339b"/><path d="M1096 654h0M1082 610h0M1117 636h0M338 362h0M1151 791h0M1152 824h0M890 267h0M963 406h0M1080 550h0M917 327h0M1145 742h0M1132 727h0M1042 534h0M1151 767h0M985 509h0M1176 874h0M373 208h0M897 248h0M370 274h0M1019 521h0M942 322h0" stroke="#3d349b"/><path d="M908 192h0M929 309h0M1105 620h0M1176 892h0M1152 885h0M1120 859h0M1193 799h0M1140 822h0M984 428h0M1087 630h0M874 202h0M1163 754h0M918 259h0M893 220h0M1197 867h0M335 385h0M1149 702h0M951 385h0" stroke="#42369a"/><path d="M981 457h0M1116 601h0M1120 655h0M1095 568h0M358 255h0M1173 793h0M358 337h0M1006 431h0M1061 499h0M1169 814h0M1173 718h0M1172 672h0M1149 683h0M1065 530h0M369 316h0M855 174h0M1010 503h0M1182 693h0M1043 483h0" stroke="#46379a"/><path d="M890 185h0M1001 458h0M1135 592h0M1234 770h0M1145 660h0M1177 847h0M910 165h0M986 406h0M1079 484h0M1230 837h0M1208 829h0M886 165h0M1081 515h0M355 299h0M924 281h0M1028 506h0M1175 913h0M1195 645h0M1181 741h0M1093 532h0M1192 768h0M1061 476h0M1208 910h0" stroke="#4b399a"/><path d="M1001 375h0M1021 383h0M981 329h0M948 301h0M1217 755h0M370 166h0M1165 653h0M1115 567h0M1136 560h0M1235 883h0M1242 795h0M1170 629h0M1144 636h0M1129 621h0M1046 439h0M1058 458h0M1217 924h0M1190 819h0M1222 720h0M974 348h0M1195 674h0M937 209h0M952 227h0M1033 451h0M946 277h0M913 237h0M1205 701h0M1227 697h0M366 193h0M1247 744h0M1155 723h0M1211 775h0" stroke="#503a9a"/><path d="M925 174h0M963 369h0M1042 389h0M960 316h0M1214 889h0M1195 897h0M1011 403h0M1182 605h0M1196 719h0M370 222h0M1084 465h0M355 232h0M934 237h0" stroke="#543b99"/><path d="M980 382h0M1150 578h0M1253 776h0M1268 788h0M1147 541h0M1131 524h0M1211 793h0M1189 623h0M1028 423h0M1240 665h0M1292 853h0M1100 500h0M345 276h0M966 287h0M352 166h0M956 258h0M1108 459h0M1226 868h0M1081 462h0M1241 858h0M1046 407h0" stroke="#593d99"/><path d="M1086 431h0M1224 622h0M338 330h0M321 341h0M1278 917h0M1251 843h0M1269 712h0M1184 576h0M1166 585h0M1216 668h0M1074 417h0M1216 639h0M1256 825h0" stroke="#5d3e99"/><path d="M1284 734h0M1267 747h0M960 179h0M1024 323h0M1267 811h0M1289 798h0M336 199h0M1195 548h0M1170 549h0M1258 922h0M1245 720h0M997 346h0M1146 494h0M1193 530h0M1283 872h0M1266 880h0M1119 491h0M323 278h0M1245 690h0M1265 899h0M1155 518h0M1306 930h0M332 311h0M1033 368h0" stroke="#614098"/><path d="M945 161h0M1067 391h0M1003 327h0M1247 631h0M1275 769h0M1205 600h0M1238 924h0M1296 902h0M1248 555h0M1274 845h0M1316 854h0M1007 270h0M982 306h0M329 296h0M1205 582h0" stroke="#654297"/><path d="M1109 420h0M1425 981h0M1343 947h0M1044 354h0M1337 784h0M319 179h0M329 216h0M1322 881h0M1336 901h0M1228 595h0M1240 579h0M1364 895h0M1018 347h0M1187 507h0M1132 472h0M1268 656h0M1299 813h0M989 255h0M1259 684h0M975 272h0M1017 306h0M1404 930h0" stroke="#694395"/><path d="M1454 917h0M1127 437h0M1381 968h0M1367 949h0M1084 370h0M1064 365h0M1231 474h0M1429 903h0M337 253h0M1113 396h0M1302 880h0M1352 913h0M1369 922h0M1238 539h0M1319 909h0M1345 883h0M1172 492h0M971 238h0M1294 686h0M1096 405h0M1246 608h0M1302 746h0M1109 442h0" stroke="#6d4594"/><path d="M1449 981h0M1047 319h0M1452 955h0M1473 947h0M1397 878h0M1416 946h0M323 238h0M1331 921h0M1334 847h0M1322 824h0M1000 290h0M1078 345h0M1228 502h0M1006 233h0M1211 560h0M1327 799h0M1230 562h0M1249 508h0" stroke="#704793"/><path d="M982 175h0M1183 465h0M1471 973h0M1210 482h0M1494 933h0M1357 865h0M1376 875h0M1416 889h0M1432 948h0M1298 775h0M319 182h0M1026 288h0M1218 535h0M1294 710h0M1353 837h0M1097 358h0M1098 384h0M1290 640h0M1495 1012h0M1411 836h0M1348 930h0" stroke="#744992"/><path d="M1330 726h0M1309 725h0M1344 756h0M1476 874h0M1146 444h0M1167 457h0M1403 981h0M1526 965h0M1319 771h0M1358 791h0M1410 853h0M1012 252h0M1315 645h0M1384 902h0M1416 778h0M1186 440h0M1166 430h0M1318 709h0M984 213h0M1509 989h0M1373 799h0M1343 969h0M1131 384h0" stroke="#784a91"/><path d="M1477 909h0M1497 907h0M1569 998h0M1446 896h0M1505 952h0M1422 926h0M1432 857h0M1057 262h0M1160 407h0M1255 526h0M1423 820h0M1441 778h0M1269 563h0M990 208h0M1367 817h0M1233 453h0M1205 501h0M1477 1001h0M1474 852h0M1448 937h0M1494 839h0M1436 876h0M1280 606h0M1440 1003h0M1113 375h0" stroke="#7c4c90"/><path d="M1511 923h0M1529 939h0M1367 751h0M1605 977h0M1457 879h0M1254 473h0M1144 368h0M1157 387h0M1212 422h0M1448 840h0M1488 820h0M1030 263h0M1036 238h0M1028 214h0M1007 200h0M1136 406h0M1052 287h0M1275 524h0M1318 619h0M1295 621h0M1282 588h0M1102 328h0M1289 566h0M1214 447h0M1125 343h0M1513 880h0M1484 801h0M1306 661h0M1482 760h0M1552 977h0M1409 795h0" stroke="#804e8f"/><path d="M1324 748h0M1549 997h0M1592 994h0M1496 861h0M1191 410h0M1468 830h0M1056 241h0M1361 769h0M1328 660h0M1115 307h0M1010 167h0M1441 821h0M1467 775h0M1397 781h0M1040 187h0M1019 186h0M1534 888h0M1451 796h0M1297 543h0" stroke="#834f8e"/><path d="M1550 947h0M1389 740h0M1348 679h0M1323 683h0M1235 423h0M1078 243h0M1411 758h0M1347 650h0M1095 300h0M1308 585h0M1535 917h0M1444 757h0M1582 917h0M1401 811h0M1461 813h0M1559 1024h0M1594 930h0M1608 1005h0" stroke="#87508d"/><path d="M1387 705h0M1366 707h0M1611 948h0M1178 394h0M1491 733h0M1366 769h0M1508 762h0M1563 899h0M1539 906h0M1511 825h0M1589 851h0M1428 748h0M1620 899h0M1271 497h0M1607 828h0M1175 331h0M1060 217h0M1255 456h0M1260 435h0M1627 1003h0M1493 773h0" stroke="#8b528c"/><path d="M1352 724h0M1436 698h0M1411 705h0M1406 725h0M1631 984h0M1537 867h0M1557 863h0M1079 268h0M1388 761h0M1075 293h0M1546 840h0M1612 856h0M1541 805h0M1543 803h0M1404 685h0M1569 937h0M1593 889h0M1214 398h0M1166 354h0M1468 743h0M1381 724h0" stroke="#8f538b"/><path d="M1650 998h0M1519 857h0M1277 473h0M1098 246h0M1252 400h0M1235 384h0M1214 373h0M1192 369h0M1419 660h0M1329 589h0M1489 714h0M1309 556h0M1584 963h0M1199 341h0M1445 719h0M1283 446h0" stroke="#92558a"/><path d="M1338 562h0M1372 678h0M1295 472h0M1277 422h0M1101 277h0M1655 958h0M1551 783h0M1527 779h0M1634 930h0M1659 923h0M1487 670h0M1396 658h0M1335 618h0M1568 835h0M1531 833h0M1227 358h0M1602 907h0M1296 501h0M1364 628h0M1280 450h0M1195 390h0M1438 657h0M1150 347h0M1428 719h0" stroke="#965689"/><path d="M1327 540h0M1317 523h0M1633 957h0M1510 730h0M1521 710h0M1682 1017h0M1664 1014h0M1566 813h0M1486 642h0M1537 733h0M1494 702h0M1507 682h0M1059 173h0M1444 636h0M1408 637h0M1529 754h0M1575 791h0M1676 945h0M1669 996h0M1181 311h0M1322 505h0" stroke="#9a5788"/><path d="M1353 582h0M1479 567h0M1539 697h0M1120 251h0M1702 1003h0M1510 652h0M1551 724h0M1557 764h0M1593 780h0M1466 671h0M1391 649h0M1119 288h0M1144 312h0M1423 679h0M1249 356h0M1080 211h0M1080 184h0M1684 965h0M1522 669h0M1073 161h0M1646 1017h0M1634 874h0" stroke="#9d5987"/><path d="M1370 649h0M1614 810h0M1274 402h0M1673 908h0M1470 594h0M1444 596h0M1636 855h0M1134 283h0M1641 896h0M1663 887h0M1318 486h0M1727 1002h0M1339 500h0M1222 339h0M1164 282h0M1578 741h0M1200 306h0M1343 529h0M1705 1041h0" stroke="#a15a86"/><path d="M1446 552h0M1535 655h0M1455 570h0M1562 704h0M1143 257h0M1452 615h0M1473 628h0M1487 615h0M1263 345h0M1463 540h0M1773 1043h0M1738 1034h0M1231 285h0M1407 612h0M1222 316h0M1274 376h0M1706 1043h0M1098 208h0M1294 409h0M1619 770h0M1496 596h0" stroke="#a55b84"/><path d="M1379 565h0M1367 599h0M1298 428h0M1281 350h0M1601 715h0M1578 763h0M1511 613h0M1114 217h0M1249 328h0M1379 583h0M1755 1050h0M1718 1024h0M1689 985h0M1697 944h0M1760 1018h0M1520 630h0M1094 160h0M1426 609h0" stroke="#a95d82"/><path d="M1402 559h0M1424 558h0M1672 853h0M1180 242h0M1158 235h0M1574 664h0M1552 671h0M1456 515h0M1501 570h0M1319 441h0M1589 811h0M1598 780h0M1614 750h0M1485 540h0M1281 333h0M1740 976h0M1176 263h0M1595 753h0M1386 618h0M1364 551h0M1103 181h0" stroke="#ad5e81"/><path d="M1113 161h0M1475 502h0M1435 510h0M1523 577h0M1313 400h0M1292 391h0M1713 903h0M1525 598h0M1160 210h0M1242 305h0M1401 579h0M1133 191h0M1210 279h0M1701 937h0M1346 461h0M1192 284h0M1502 549h0" stroke="#b25f7f"/><path d="M1310 366h0M1204 242h0M1134 232h0M1485 432h0M1494 492h0M1412 501h0M1304 349h0M1637 806h0M1331 403h0M1691 896h0M1653 775h0M1633 780h0M1328 376h0M1518 558h0M1726 959h0M1362 498h0M1714 976h0M1736 982h0M1652 830h0M1482 414h0M1440 534h0M1495 510h0M1541 580h0" stroke="#b6607e"/><path d="M1391 527h0M1479 386h0M1463 435h0M1272 277h0M1508 477h0M1607 693h0M1341 443h0M1428 445h0M1586 702h0M1661 800h0M1796 1000h0M1201 214h0M1549 603h0M1137 213h0M1635 755h0M1263 292h0M1505 528h0M1682 878h0M1807 1023h0M1252 276h0M1747 953h0M1783 1066h0M1442 485h0M1375 534h0M1492 467h0M1331 471h0" stroke="#ba627c"/><path d="M1247 258h0M1586 642h0M1398 468h0M1361 474h0M1779 993h0M1220 214h0M1307 303h0M1837 1047h0M1785 1025h0M1343 420h0M1425 469h0M1564 622h0M1539 625h0M1783 936h0M1473 360h0M1228 238h0M1176 198h0" stroke="#be637a"/><path d="M1133 172h0M1372 512h0M1456 380h0M1440 367h0M1225 256h0M1631 702h0M1422 412h0M1378 482h0M1517 507h0M1241 222h0M1262 218h0M1749 913h0M1283 303h0M1827 1024h0M1874 1028h0M1473 341h0M1190 185h0M1531 539h0M1445 457h0M1804 1065h0M1563 640h0M1299 328h0M1495 463h0M1424 389h0M1804 979h0M1772 958h0" stroke="#c26478"/><path d="M1157 175h0M1713 868h0M1735 878h0M1269 246h0M1360 435h0M1532 492h0M1473 307h0M1774 916h0M1897 1022h0M1819 933h0M1460 324h0M1531 522h0M1929 960h0M1368 455h0M1501 396h0M1603 663h0M1505 445h0M1469 285h0M1835 1071h0" stroke="#c56676"/><path d="M1694 858h0M1329 356h0M1427 352h0M1503 425h0M1315 282h0M1405 441h0M1398 446h0M1271 192h0M1803 959h0M1826 962h0M1899 1056h0M1820 991h0M1846 989h0M1459 268h0M1813 1049h0M1852 1017h0M1911 1006h0M1353 377h0M1350 420h0M1318 319h0" stroke="#c96773"/><path d="M1755 872h0M1813 891h0M1282 230h0M1292 282h0M1380 422h0M1248 193h0M1683 808h0M1283 209h0M1794 921h0M1926 1048h0M1857 1060h0M1877 1067h0M1495 353h0M1435 324h0M1414 323h0M1178 169h0M1360 394h0M1877 989h0M1487 280h0M1578 595h0M2071 1115h0M1682 789h0M1639 684h0M1624 673h0M1326 301h0M1420 371h0" stroke="#cd6970"/><path d="M1405 351h0M1350 334h0M1338 315h0M2216 1099h0M1525 458h0M1400 413h0M2029 1075h0M1315 205h0M1455 298h0M1932 1072h0M1469 237h0M1439 265h0M1208 161h0M1703 817h0M1893 912h0M1839 924h0M1674 765h0M1493 311h0M1381 395h0M1909 950h0M1887 969h0M1965 1043h0M1497 282h0M1300 262h0M1248 171h0M1448 344h0" stroke="#d06a6d"/><path d="M1778 882h0M1945 990h0M2255 1118h0M1609 640h0M2116 989h0M2027 996h0M2050 1061h0M1400 301h0M1931 900h0M2043 1038h0M1431 299h0M1427 279h0M1846 946h0M1866 939h0M1913 1077h0M1317 256h0M1336 263h0M1454 248h0M1551 564h0M1219 180h0M2193 1092h0M1908 984h0M1872 910h0M1501 329h0M1398 389h0M1888 947h0M1869 960h0M1951 1021h0M1311 233h0M1550 500h0M2316 1130h0M2138 1092h0M1475 197h0M1659 736h0M1380 371h0M2026 1108h0M1756 854h0M1734 854h0M2101 1052h0" stroke="#d46c6b"/><path d="M1800 877h0M1828 899h0M1385 344h0M1520 416h0M2092 991h0M2121 1010h0M1334 282h0M2003 1078h0M1293 192h0M1953 897h0M1984 1037h0M2064 1029h0M1548 479h0M1436 233h0M1448 218h0M1882 890h0M1567 579h0M1707 795h0M1737 831h0M2223 950h0M1848 904h0M1411 331h0M1949 967h0M1967 1065h0M2091 1121h0M2137 1113h0M1562 541h0M2116 1096h0M1476 212h0M2364 1089h0M2074 1011h0M1889 1005h0M1574 558h0M2320 1111h0M1976 959h0M2168 1064h0" stroke="#d86d68"/><path d="M1362 351h0M1902 932h0M2011 979h0M2138 1019h0M2222 1056h0M2145 1060h0M2128 1074h0M2073 1083h0M2061 1094h0M2001 895h0M2002 1051h0M2024 1054h0M2120 1047h0M2266 1066h0M2249 1054h0M1858 884h0M2287 1095h0M2351 1074h0M1418 252h0M2298 1038h0M2077 925h0M2010 933h0M1995 953h0M2016 1022h0M2201 1118h0M1778 857h0M2308 1006h0M1988 925h0M1968 937h0M2141 1146h0M2313 1141h0M2157 1080h0M1493 190h0M2035 944h0M2239 1079h0M1926 1020h0M2535 1195h0M2020 954h0" stroke="#dc6f65"/><path d="M1990 990h0M1948 920h0M1921 922h0M2236 1103h0M2070 992h0M1354 280h0M1545 458h0M2553 1132h0M1378 296h0M2082 1072h0M1977 896h0M2086 1031h0M1413 230h0M1837 874h0M1471 172h0M2505 1179h0M2275 991h0M2204 1074h0M1720 824h0M2054 921h0M2033 922h0M2145 945h0M1879 867h0M2034 967h0M1445 163h0M2281 1132h0M2240 983h0M1995 1018h0M2526 1067h0M2286 1061h0M2114 1115h0M1606 613h0M1605 613h0M1948 947h0M2143 1150h0M1372 316h0M2412 1101h0M2160 1042h0M2346 1144h0M2064 1049h0M2165 1126h0M2039 1014h0M1641 666h0" stroke="#df7062"/><path d="M1969 988h0M2052 999h0M1401 282h0M2550 1175h0M2105 1074h0M2111 1032h0M1316 168h0M2339 1115h0M2361 1117h0M2381 1124h0M1924 879h0M1902 884h0M1823 855h0M2329 1080h0M2086 962h0M2499 1107h0M1506 259h0M2374 1164h0M1452 182h0M1496 164h0M2322 1033h0M2278 1043h0M1761 824h0M2115 928h0M2170 974h0M2056 962h0M1421 161h0M1518 334h0M2234 1004h0M2192 996h0M1337 235h0M2461 1166h0M2342 1057h0M2504 1134h0M2285 1010h0M1672 719h0M1680 744h0M2517 1201h0M1284 164h0M1569 511h0M2167 1099h0M1441 201h0M2387 1106h0" stroke="#e2735f"/><path d="M1540 420h0M1632 648h0M2138 984h0M1376 275h0M2579 1207h0M2550 1153h0M1337 162h0M1319 189h0M2171 902h0M2171 925h0M2238 1034h0M2222 1024h0M2199 1027h0M1369 244h0M1391 235h0M1947 872h0M2312 1093h0M2371 1064h0M2393 1061h0M2544 1095h0M2522 1099h0M2428 1062h0M1414 202h0M1430 186h0M1392 257h0M2528 1176h0M2299 986h0M1784 817h0M2138 926h0M2096 937h0M2286 964h0M2265 959h0M1899 858h0M1856 864h0M2068 943h0M1540 394h0M2213 999h0M2468 1154h0M2311 1059h0M2506 1154h0M1348 191h0M2112 910h0M2487 1174h0M2571 1174h0M1518 301h0M2169 1000h0M1826 828h0M1792 835h0M1352 174h0M1596 596h0" stroke="#e5765c"/><path d="M1657 701h0M2021 894h0M2163 931h0M2191 1047h0M2401 1127h0M2391 1037h0M1571 488h0M2109 953h0M1396 194h0M1727 807h0M1748 803h0M2195 926h0M1521 346h0M1383 216h0M2481 1129h0M2256 1005h0M1506 229h0M2064 879h0M2304 946h0M2360 1046h0M2504 1158h0M2266 1020h0M1933 851h0M2131 903h0M1338 212h0M1697 732h0M2422 1174h0M2345 1015h0M2344 1012h0M1587 523h0M2382 1080h0M2527 1145h0M2054 900h0" stroke="#e77959"/><path d="M1564 425h0M2343 990h0M1763 787h0M2602 1195h0M2561 1195h0M2423 1117h0M2445 1112h0M2370 1029h0M2275 920h0M2411 1075h0M2629 1229h0M1537 376h0M2045 856h0M1719 775h0M2310 964h0M2215 929h0M2454 1131h0M1972 842h0M2544 1060h0M1853 834h0M2078 894h0M2584 1158h0M2086 873h0M1913 843h0M2602 1132h0M2505 1088h0" stroke="#ea7c56"/><path d="M2363 982h0M1680 702h0M2461 1097h0M2253 923h0M2194 957h0M2564 1093h0M1624 595h0M1737 765h0M1660 676h0M1378 161h0M1400 162h0M2434 1144h0M2414 1157h0M1990 860h0M2284 940h0M1513 201h0M2222 906h0M2302 926h0" stroke="#ec7f52"/><path d="M1655 645h0M2510 1029h0M1803 784h0M2168 879h0M2411 1041h0M2235 925h0M1968 871h0M2432 1083h0M2619 1217h0M1835 810h0M1858 808h0M1609 577h0M2027 861h0M1639 629h0M2244 953h0M1562 404h0M2504 1062h0M2596 1176h0M2105 884h0" stroke="#ee824f"/><path d="M1822 768h0M1783 782h0M2370 1010h0M2650 1237h0M1818 797h0M2465 1059h0M2447 1054h0M2573 1121h0M2201 882h0M2619 1166h0M1681 682h0M1992 852h0M1709 716h0M2632 1203h0M2151 896h0" stroke="#f1854c"/><path d="M1985 825h0M1674 655h0M2552 1031h0M1880 806h0M2592 1107h0M2670 1218h0M2636 1178h0M1736 749h0M2071 845h0M2110 855h0M2203 907h0M2332 921h0M2562 1074h0M1770 764h0M1770 743h0M2473 1040h0" stroke="#f38849"/><path d="M1651 593h0M2530 1034h0M2406 1001h0M2144 870h0M2445 1024h0M2292 906h0M1848 787h0M1872 784h0M1527 268h0M2350 956h0M2154 848h0M2242 889h0M2654 1184h0M1666 624h0M1610 507h0M2087 853h0M2646 1149h0M2631 1132h0M1604 551h0M2288 885h0M2605 1086h0" stroke="#f68b45"/><path d="M1965 818h0M1925 806h0M1904 809h0M1587 425h0M2427 1005h0M2385 998h0M2429 1037h0M2622 1076h0M2372 951h0M2221 883h0M1592 458h0M2352 930h0M2070 824h0M2585 1065h0M1530 232h0M1792 759h0M1619 530h0M1602 491h0M2610 1140h0M1715 697h0M2015 832h0M2102 838h0M1526 214h0" stroke="#f78f44"/><path d="M1941 818h0M2381 968h0M1516 167h0M2468 1016h0M2641 1087h0M1897 777h0M1553 358h0M1541 313h0M2660 1203h0M2605 1057h0" stroke="#f79343"/><path d="M1637 574h0M2575 1027h0M1838 756h0M2043 818h0M2116 825h0M2138 832h0M1702 678h0M2624 1110h0M2500 1014h0M1791 738h0" stroke="#f89642"/><path d="M2201 855h0M1861 747h0M2331 889h0M1941 774h0M1548 335h0M1553 297h0M2509 983h0M2167 841h0M1731 734h0M2436 958h0M2095 820h0M2670 1158h0M1582 382h0M2680 1249h0" stroke="#f89a41"/><path d="M2200 846h0M1629 550h0M1907 755h0M1884 749h0M2446 995h0M2390 906h0M2308 888h0M2657 1098h0M1805 724h0M1823 730h0M1617 437h0M2687 1230h0M2422 972h0M2442 975h0M1634 519h0M2360 897h0M1621 477h0M2408 958h0M1581 401h0M2630 1057h0M2394 928h0M2607 1033h0M1857 768h0M2679 1183h0M2521 1013h0M3257 1369h0" stroke="#f99e40"/><path d="M2224 850h0M2673 1128h0M2343 871h0M2023 811h0M1919 773h0M2487 992h0M2546 996h0M1746 707h0M1784 711h0M1684 618h0M1634 497h0M2270 876h0M1701 635h0M1706 656h0" stroke="#f9a23f"/><path d="M1670 594h0M2594 1019h0M2464 957h0M2059 803h0M2106 797h0M1761 719h0M1845 728h0M2650 1059h0M1542 187h0" stroke="#faa63e"/><path d="M1963 774h0M1980 766h0M1568 337h0M1566 314h0M2374 884h0M2526 986h0M1748 681h0M2009 783h0M1662 552h0M1553 240h0M2237 827h0M1827 708h0M2692 1200h0M2487 969h0" stroke="#fbaa3d"/><path d="M2616 999h0M2196 822h0M2130 797h0M1780 691h0M2704 1219h0M2436 934h0M1655 533h0M1727 673h0M2257 846h0M2279 855h0M2297 856h0M2631 1025h0M1986 792h0M2150 793h0M2145 813h0M2537 960h0M2515 959h0M1872 725h0" stroke="#fbae3c"/><path d="M2680 1091h0M2081 792h0M1617 418h0M1571 280h0M2569 995h0M1556 207h0M2574 975h0M1809 696h0M1565 259h0M2169 798h0" stroke="#fab33d"/><path d="M2196 804h0M2690 1143h0M2704 1162h0M3021 709h0M2489 920h0M2697 1099h0M2590 986h0M1724 627h0M2450 919h0M1766 672h0M2679 1071h0M2792 1225h0M1567 224h0M1914 738h0M1858 712h0M2430 906h0" stroke="#fab73f"/><path d="M2997 703h0M2569 941h0M2557 926h0M1541 162h0M3020 920h0M1589 336h0M1586 302h0M3029 796h0M3014 409h0M2724 1231h0M2977 375h0M2668 1052h0M2654 1035h0M2739 1254h0M2720 1253h0M2793 1186h0M1602 386h0M2269 825h0M2716 1201h0M2560 957h0M2493 949h0M3029 1173h0M1999 763h0M2525 939h0M2676 1030h0M1677 539h0M2745 1210h0M2913 1214h0M1976 747h0" stroke="#f9bb40"/><path d="M2947 1233h0M2912 1234h0M2845 1223h0M1934 696h0M2319 727h0M2199 786h0M2989 307h0M2994 1058h0M1666 496h0M2412 900h0M2609 955h0M2536 921h0M2508 929h0M1889 670h0M2016 720h0M2359 856h0M3017 919h0M2021 765h0M2044 766h0M2087 767h0M2323 847h0M2302 836h0M2373 868h0M1695 570h0M1793 672h0M3014 1132h0M2471 927h0M2668 1011h0M2456 890h0M1949 748h0M2952 1255h0M2811 1205h0M2539 724h0M2857 1178h0M1660 462h0M1738 651h0M2767 1223h0M3009 1076h0M3022 391h0M2612 976h0M1924 720h0M2702 1183h0M2943 747h0M3007 1009h0M2392 877h0M2631 946h0M3016 1058h0M2563 907h0M2984 1243h0M2718 1095h0M2727 1186h0" stroke="#f9c041"/><path d="M2636 998h0M2979 1222h0M2959 1213h0M2931 1247h0M2890 1231h0M2941 1160h0M3018 679h0M2970 967h0M3008 297h0M2511 297h0M2487 679h0M3022 712h0M2433 577h0M2977 1054h0M2947 1192h0M2969 1181h0M3009 1237h0M2424 880h0M2979 431h0M2082 738h0M3010 727h0M2979 807h0M2066 768h0M2108 764h0M2447 765h0M3022 269h0M2240 606h0M2192 539h0M2968 580h0M2091 286h0M2991 774h0M3031 426h0M3004 358h0M3025 365h0M2898 1204h0M2878 1202h0M2380 826h0M2221 363h0M2150 393h0M1677 468h0M2716 1127h0M2929 1113h0M2909 1109h0M3012 966h0M2566 323h0M2886 494h0M2231 790h0M2249 799h0M2837 369h0M2382 510h0M3018 480h0M2524 870h0M2758 1130h0M3007 837h0M2972 685h0M2988 1080h0M2813 1226h0M2947 549h0M2981 553h0M2871 1160h0M2994 1170h0M2759 1245h0M2501 413h0M2510 393h0M2970 1278h0M2851 1071h0M2544 900h0M3029 1025h0M3000 196h0M2959 161h0M2925 1196h0M2994 985h0M2485 895h0M3000 560h0M3030 241h0M2781 1155h0M2986 1261h0M3003 235h0M2799 1135h0M2546 462h0M2974 510h0M2733 1139h0M3030 729h0M2215 799h0M2543 669h0" stroke="#f8c442"/><path d="M2353 176h0M2356 347h0M2007 177h0M3024 606h0M2566 816h0M2861 838h0M2570 886h0M2921 1145h0M2977 661h0M2997 675h0M2551 762h0M2162 704h0M1955 697h0M1895 704h0M2883 995h0M2928 968h0M2334 248h0M2950 288h0M3026 288h0M2434 292h0M2274 218h0M2190 204h0M2726 1167h0M2640 914h0M2236 412h0M2220 427h0M2419 680h0M2464 679h0M2406 541h0M2912 671h0M2015 694h0M2385 756h0M2382 711h0M2990 1193h0M3028 1206h0M3029 1229h0M3014 1255h0M2356 642h0M2998 444h0M3023 444h0M2443 240h0M2586 957h0M2418 806h0M2417 854h0M2036 732h0M2966 733h0M1561 167h0M2257 593h0M2960 1010h0M2977 1003h0M2811 1118h0M2521 213h0M2400 683h0M2217 334h0M2991 1035h0M2549 269h0M2951 182h0M3015 582h0M1630 398h0M2969 774h0M3013 779h0M1594 272h0M2960 607h0M2122 592h0M2170 538h0M2652 959h0M2243 357h0M2880 641h0M2168 388h0M3016 634h0M3005 615h0M1792 647h0M1661 442h0M2992 216h0M2960 251h0M2927 235h0M1773 650h0M2403 515h0M2998 470h0M1854 693h0M2550 876h0M1741 594h0M2775 1116h0M2956 354h0M2414 758h0M2305 498h0M2738 1056h0M2953 988h0M2208 167h0M2471 761h0M1965 732h0M2954 888h0M2933 891h0M2822 1187h0M3027 342h0M3031 848h0M3029 858h0M2605 845h0M2510 842h0M2989 754h0M3010 746h0M2879 1172h0M2401 210h0M2199 674h0M2960 1153h0M2767 1185h0M2784 1207h0M3007 1102h0M2241 704h0M2924 739h0M2993 534h0M2938 489h0M2584 529h0M2074 575h0M2807 1170h0M2522 893h0M2934 1082h0M3002 1289h0M3028 162h0M2988 183h0M2982 162h0M2933 1215h0M2479 452h0M3032 998h0M3019 986h0M3016 512h0M2156 615h0M3023 557h0M2987 634h0M1817 674h0M2246 577h0M2960 1042h0M2555 791h0M2480 401h0M2310 746h0M3026 203h0M1656 422h0M2085 185h0M3001 277h0M2344 842h0M2272 694h0M2996 418h0M2862 591h0" stroke="#f7c943"/><path d="M2330 179h0M2506 334h0M2378 351h0M2652 990h0M2867 1227h0M2543 805h0M2955 840h0M1781 632h0M1801 627h0M2450 628h0M2408 623h0M2595 774h0M2573 771h0M2142 719h0M2167 656h0M2295 596h0M2364 222h0M2967 300h0M2443 313h0M2330 198h0M2311 207h0M2208 198h0M2868 394h0M2083 670h0M2679 939h0M2734 902h0M2503 663h0M2537 692h0M2210 390h0M2471 561h0M2454 573h0M2101 705h0M2100 494h0M2155 462h0M2282 259h0M2120 311h0M2138 322h0M2428 704h0M2486 730h0M2506 722h0M2162 745h0M2161 727h0M1700 528h0M1682 512h0M3009 1195h0M2941 405h0M2967 403h0M2378 646h0M2402 658h0M2423 656h0M2440 650h0M2528 328h0M2541 315h0M2504 259h0M2422 232h0M2320 537h0M2433 818h0M2432 836h0M2127 350h0M2061 729h0M2098 639h0M2951 717h0M2987 734h0M1580 171h0M3003 817h0M2957 803h0M2924 1039h0M2943 1028h0M2152 766h0M2168 778h0M2923 913h0M2899 1086h0M2404 263h0M2380 676h0M2231 506h0M2248 519h0M2294 516h0M2286 317h0M2791 1026h0M3021 892h0M2729 1073h0M2084 546h0M2238 632h0M2517 610h0M2479 587h0M2435 596h0M2796 708h0M1605 352h0M2957 483h0M2541 245h0M2950 434h0M2842 291h0M2208 575h0M2201 561h0M2945 589h0M2991 590h0M1652 388h0M3024 818h0M2223 307h0M2212 287h0M2437 473h0M2773 734h0M2980 607h0M2428 403h0M2410 386h0M2884 1118h0M2864 573h0M2897 618h0M2386 315h0M2168 585h0M2201 224h0M2946 380h0M2406 824h0M2905 638h0M2131 409h0M2100 203h0M2599 915h0M1813 650h0M2752 1094h0M2734 1110h0M1768 616h0M2969 1135h0M2952 1122h0M2554 433h0M2993 954h0M2972 941h0M2964 918h0M2948 910h0M2971 218h0M2469 217h0M3006 651h0M3027 660h0M2292 799h0M2970 381h0M2973 334h0M2371 426h0M2339 398h0M2424 513h0M2982 457h0M2944 469h0M1865 669h0M1747 600h0M2936 357h0M2434 745h0M2951 687h0M2975 1099h0M2473 874h0M2532 188h0M2565 166h0M2913 795h0M2974 849h0M2964 867h0M2259 732h0M2288 365h0M2136 269h0M2154 187h0M2317 611h0M2513 839h0M2898 892h0M2223 672h0M2152 162h0M2047 515h0M2070 513h0M2108 515h0M2914 771h0M2971 1162h0M2976 264h0M2374 596h0M2193 697h0M2844 1201h0M2969 531h0M2923 871h0M2900 419h0M2610 208h0M2777 325h0M2259 194h0M2509 530h0M2285 668h0M2292 685h0M2566 536h0M1994 243h0M2307 166h0M1946 720h0M2219 648h0M2141 235h0M2770 1063h0M2475 614h0M1591 230h0M2916 471h0M2998 510h0M2958 269h0M2912 566h0M2030 617h0M2374 258h0M2150 509h0M1587 249h0M2940 323h0M2601 869h0M2912 1173h0M2518 500h0M2821 399h0M3013 939h0M2976 901h0M2326 825h0M2497 755h0M2471 320h0M2598 940h0M2394 599h0M2870 1069h0M2291 337h0M2301 817h0M2993 928h0M3030 528h0M2340 546h0M2195 655h0M2131 455h0M2263 780h0M2553 830h0M1622 382h0" stroke="#f7cd44"/><path d="M1676 411h0M2306 187h0M2398 178h0M2483 335h0M2468 352h0M2431 335h0M2416 338h0M2399 356h0M2868 249h0M2035 215h0M2026 192h0M2696 981h0M2663 436h0M2521 802h0M2883 840h0M2594 891h0M2851 1143h0M2875 1137h0M2469 641h0M2940 647h0M2962 646h0M2533 774h0M2034 375h0M2318 583h0M1985 729h0M1973 711h0M1916 702h0M2301 277h0M2315 260h0M2819 545h0M2464 299h0M2418 282h0M2247 220h0M2229 208h0M2258 410h0M2203 437h0M2441 682h0M2519 678h0M2387 536h0M2892 668h0M2854 975h0M2796 945h0M2252 386h0M2232 384h0M2535 576h0M2516 564h0M2036 704h0M2359 757h0M2339 768h0M2214 738h0M2225 754h0M2240 767h0M2260 760h0M2140 475h0M2243 284h0M2470 717h0M2439 870h0M2482 250h0M2516 910h0M2251 553h0M2274 547h0M2296 543h0M2013 334h0M2055 335h0M2096 334h0M1997 617h0M1978 626h0M1971 648h0M1911 666h0M2016 671h0M2907 696h0M2773 300h0M2278 584h0M2294 569h0M2882 1030h0M2582 476h0M2130 762h0M2876 909h0M2877 1096h0M2855 1101h0M2834 1112h0M2342 277h0M2442 261h0M2832 332h0M2892 325h0M2541 214h0M2238 323h0M2465 782h0M2575 562h0M2814 1021h0M2565 619h0M2542 612h0M2458 594h0M2193 612h0M1609 298h0M2299 644h0M2925 442h0M2906 446h0M2887 455h0M2863 459h0M2093 359h0M2203 528h0M2849 415h0M2027 445h0M2946 770h0M2824 887h0M2703 1038h0M2545 399h0M2296 398h0M2342 439h0M2393 470h0M2881 737h0M2889 519h0M2054 287h0M2941 614h0M2446 416h0M2399 385h0M2362 315h0M2319 314h0M2303 297h0M2279 295h0M2110 610h0M2787 982h0M2831 1000h0M2854 1032h0M2905 380h0M2370 806h0M2401 831h0M2085 717h0M2042 462h0M2617 821h0M1687 494h0M2499 366h0M2558 371h0M1748 624h0M2535 437h0M2924 940h0M2093 244h0M2912 852h0M2871 275h0M2492 218h0M2872 480h0M2268 798h0M2313 801h0M2980 329h0M2397 439h0M2374 445h0M2447 517h0M2070 455h0M2960 453h0M2236 442h0M1718 593h0M2782 1094h0M2890 960h0M2255 468h0M2470 178h0M2137 659h0M2873 758h0M2852 755h0M2228 171h0M2249 165h0M2479 515h0M2467 531h0M2693 1011h0M2715 1016h0M2491 866h0M2553 184h0M2490 773h0M2436 364h0M2498 466h0M2518 473h0M2539 487h0M2869 783h0M2855 939h0M2284 732h0M2400 776h0M3028 317h0M2268 350h0M2160 262h0M2148 209h0M2337 609h0M2017 253h0M2457 475h0M2243 679h0M2131 172h0M2901 771h0M2366 778h0M2142 425h0M2538 847h0M2561 678h0M2953 503h0M2303 681h0M2169 303h0M1990 496h0M2914 164h0M1993 264h0M1961 282h0M2269 241h0M3017 180h0M2521 238h0M2140 628h0M2933 567h0M2799 1053h0M2485 698h0M2332 160h0M2312 437h0M2858 192h0M2482 282h0M3011 1154h0M2764 1003h0M2013 531h0M2170 244h0M2412 455h0M2462 498h0M2137 295h0M2198 273h0M2922 419h0M2914 281h0M2922 272h0M2250 302h0M2930 521h0M2882 292h0M2334 663h0M2374 373h0M2394 557h0M2281 477h0M2190 463h0M2955 665h0M2538 160h0M2432 558h0M2114 389h0M2542 418h0M2942 1140h0M1990 199h0" stroke="#f6d146"/><path d="M2851 384h0M2867 365h0M2283 182h0M2421 176h0M2453 344h0M2897 218h0M2005 212h0M2772 451h0M2803 672h0M2931 836h0M2857 804h0M2818 808h0M2744 859h0M2658 870h0M2827 1150h0M2511 645h0M2426 626h0M2168 683h0M2015 388h0M2334 569h0M2859 993h0M2950 962h0M2345 229h0M2839 559h0M2865 554h0M2489 300h0M2297 218h0M2747 1156h0M2280 410h0M2341 521h0M2816 950h0M2698 956h0M2191 405h0M2581 590h0M2494 558h0M2078 698h0M2316 767h0M2871 174h0M2612 471h0M2117 482h0M2163 444h0M2164 418h0M2828 853h0M2262 273h0M2299 242h0M2158 325h0M2143 742h0M2056 409h0M2820 215h0M2798 202h0M2452 855h0M2520 275h0M2230 545h0M2397 797h0M2076 334h0M2612 700h0M1958 670h0M1935 670h0M2040 673h0M2927 710h0M2112 457h0M2559 482h0M2603 487h0M1914 588h0M2362 274h0M2419 251h0M2463 270h0M2870 330h0M2905 306h0M2341 688h0M2353 670h0M2208 501h0M2263 320h0M2520 746h0M2486 815h0M2062 554h0M2105 537h0M2504 595h0M1624 364h0M2198 609h0M2021 280h0M1989 556h0M2279 619h0M2849 702h0M2881 697h0M2890 717h0M2560 231h0M2322 641h0M2925 591h0M2074 311h0M2089 306h0M2080 423h0M2060 433h0M1977 461h0M2859 899h0M2320 400h0M2327 419h0M2352 459h0M2839 735h0M2861 739h0M2883 585h0M2407 314h0M2168 562h0M2197 242h0M2926 388h0M2345 805h0M2875 622h0M2050 479h0M1996 516h0M2644 786h0M2075 205h0M2033 162h0M2368 574h0M1704 490h0M1833 658h0M2541 375h0M2576 362h0M2072 383h0M2991 1140h0M2598 413h0M2616 451h0M1685 448h0M2894 862h0M2942 236h0M2889 271h0M2447 207h0M2429 196h0M2856 657h0M2818 381h0M2359 406h0M1873 649h0M2260 437h0M2234 468h0M2209 474h0M2263 489h0M2450 165h0M2120 677h0M2931 990h0M2567 505h0M2321 379h0M2448 546h0M2739 1036h0M2460 746h0M2444 381h0M2110 268h0M2149 216h0M2282 454h0M2030 236h0M2586 193h0M2089 165h0M2067 513h0M2344 479h0M2991 1118h0M2009 640h0M2218 707h0M2533 827h0M2763 423h0M2312 462h0M2492 163h0M2829 1075h0M2506 788h0M2494 538h0M2267 659h0M2544 537h0M2145 679h0M2528 517h0M2793 578h0M2597 335h0M2927 1060h0M2100 732h0M2120 238h0M1990 320h0M2443 799h0M2561 640h0M2928 208h0M2801 1070h0M2899 1055h0M2050 608h0M2672 907h0M2692 897h0M2852 531h0M2163 490h0M2162 482h0M2892 543h0M2768 1017h0M2050 650h0M2144 562h0M2578 866h0M2917 535h0M2351 706h0M2141 533h0M2575 792h0M2192 329h0M2444 447h0M2985 897h0M2812 969h0M2544 560h0M2864 215h0M2098 223h0M2891 815h0M2515 162h0M2209 766h0M2056 306h0M2430 774h0M2898 237h0M1994 652h0" stroke="#f5d647"/><path d="M1692 426h0M2723 806h0M2783 830h0M2376 174h0M2612 369h0M2879 234h0M2805 269h0M2055 228h0M1988 180h0M1964 176h0M1966 233h0M1985 219h0M2672 987h0M2821 680h0M2603 795h0M2589 809h0M2837 816h0M2722 864h0M2703 871h0M2637 879h0M2615 889h0M2900 1139h0M2490 646h0M2387 628h0M1975 375h0M1947 339h0M1937 323h0M2746 509h0M2760 525h0M2779 533h0M2796 546h0M2657 930h0M2632 507h0M2364 533h0M2730 573h0M2927 686h0M2742 939h0M2560 580h0M2056 703h0M2414 727h0M2391 736h0M2847 169h0M2825 172h0M2193 727h0M2595 454h0M2810 867h0M2826 849h0M2407 707h0M2452 703h0M2101 402h0M2077 402h0M2826 775h0M2460 833h0M2541 289h0M2465 243h0M2035 333h0M2117 332h0M2635 739h0M2060 666h0M1991 670h0M2661 308h0M2706 302h0M2731 297h0M1989 586h0M2101 444h0M2898 914h0M2397 281h0M2321 695h0M2202 352h0M2473 801h0M2817 1044h0M2840 1051h0M2044 545h0M1907 326h0M2584 611h0M2218 601h0M2023 561h0M2277 622h0M2647 692h0M2974 490h0M2866 686h0M2196 374h0M2805 307h0M2823 298h0M1857 164h0M1667 371h0M2827 420h0M2873 417h0M1911 515h0M1925 532h0M1962 563h0M1999 473h0M1925 637h0M1953 640h0M2790 914h0M2570 395h0M2414 474h0M2588 160h0M2795 730h0M2819 731h0M1900 178h0M2469 420h0M2035 355h0M2898 600h0M2778 772h0M2817 756h0M2781 245h0M2342 306h0M2145 591h0M2220 253h0M2724 998h0M2745 992h0M2763 978h0M2849 1011h0M2895 401h0M2744 772h0M2858 610h0M2031 480h0M2018 500h0M2847 469h0M2667 830h0M2710 827h0M2122 214h0M2051 173h0M2374 551h0M1592 193h0M2057 390h0M2573 418h0M2941 930h0M2582 256h0M2876 872h0M2873 869h0M2855 857h0M1936 379h0M1962 402h0M2915 509h0M2905 490h0M2770 646h0M2793 649h0M2684 475h0M2358 387h0M2283 500h0M2451 164h0M2344 371h0M2338 355h0M2784 483h0M2805 482h0M2737 1015h0M2468 381h0M2834 928h0M2104 657h0M2964 562h0M2584 727h0M2603 728h0M1909 426h0M2598 237h0M2583 211h0M2560 210h0M2110 162h0M2572 839h0M2064 357h0M1924 348h0M2033 641h0M2786 618h0M2840 592h0M2390 412h0M2583 685h0M2670 504h0M2644 233h0M1944 292h0M2592 636h0M2691 849h0M2905 194h0M2762 561h0M2310 344h0M1992 298h0M2540 651h0M1636 335h0M2493 197h0M2794 790h0M2831 978h0M2877 438h0M2842 684h0M2120 557h0M2034 578h0M2587 318h0M2591 317h0M1710 547h0M2331 751h0M2619 190h0M2607 576h0M2783 276h0M2812 697h0M2864 716h0M1996 406h0" stroke="#f3da4a"/><path d="M2890 356h0M2699 800h0M2737 826h0M2761 823h0M2653 390h0M2826 265h0M2695 431h0M2753 445h0M2817 452h0M1871 451h0M2907 833h0M1928 211h0M2616 778h0M1995 388h0M1964 356h0M2907 984h0M2346 733h0M2191 765h0M1847 219h0M2100 679h0M2702 931h0M2724 922h0M2754 891h0M2776 887h0M2780 933h0M2758 924h0M2723 950h0M2668 272h0M2658 563h0M2617 557h0M2596 551h0M2285 768h0M2573 446h0M2032 408h0M2012 420h0M2757 200h0M2772 213h0M1995 348h0M2077 652h0M2642 591h0M2623 285h0M2904 1036h0M1942 616h0M2094 470h0M2791 510h0M2680 662h0M2382 290h0M2271 518h0M1928 236h0M2729 352h0M2645 324h0M1668 351h0M2069 263h0M2005 563h0M2627 679h0M2584 658h0M2831 708h0M2114 369h0M1622 201h0M1658 181h0M2093 566h0M2038 439h0M1945 649h0M2806 900h0M2847 880h0M2852 917h0M2613 398h0M2634 407h0M2635 445h0M2634 175h0M2868 508h0M2653 172h0M2014 362h0M1718 571h0M1743 572h0M1786 589h0M2661 216h0M2885 570h0M2798 762h0M2770 263h0M2088 623h0M2840 623h0M2709 902h0M2635 808h0M2061 192h0M1603 211h0M2569 284h0M2559 303h0M2908 254h0M1912 378h0M2814 656h0M2771 343h0M2729 328h0M2777 396h0M1934 167h0M2814 351h0M2775 368h0M2905 961h0M2637 642h0M2651 658h0M2761 1037h0M2120 259h0M2826 907h0M2675 376h0M2651 371h0M2563 716h0M2634 759h0M2715 618h0M1852 633h0M2682 193h0M2365 488h0M2642 350h0M1910 279h0M2803 605h0M2823 604h0M2658 486h0M2624 223h0M2788 423h0M2610 625h0M1925 555h0M1959 471h0M1982 482h0M2078 598h0M2865 310h0M2859 307h0M2600 261h0M1612 333h0M2760 163h0M1889 639h0M2818 578h0M2836 192h0M2764 959h0M2898 1014h0M1962 434h0M2643 196h0M2721 975h0M2744 970h0M2711 369h0M2734 748h0M2488 835h0M2764 801h0M2686 415h0M1974 252h0M2057 582h0" stroke="#f1df4c"/><path d="M1728 396h0M1713 414h0M2733 403h0M2694 387h0M2676 396h0M2848 259h0M2717 425h0M2736 429h0M1894 453h0M2784 679h0M2766 688h0M1908 225h0M2881 798h0M2680 870h0M2697 522h0M2638 563h0M2781 186h0M2757 182h0M2713 174h0M1766 468h0M2620 596h0M2687 608h0M2684 308h0M2012 581h0M1963 613h0M2813 514h0M2654 626h0M2702 674h0M2853 340h0M1912 250h0M2688 331h0M1883 318h0M1646 356h0M2810 246h0M2827 233h0M2851 230h0M2042 268h0M2675 745h0M1681 186h0M1892 505h0M1943 545h0M2015 461h0M1926 491h0M2591 395h0M2374 465h0M2611 164h0M2751 733h0M1763 584h0M2702 724h0M2751 280h0M1721 337h0M1789 297h0M2817 631h0M2717 545h0M1711 468h0M2521 364h0M2613 428h0M1881 195h0M1896 207h0M1768 434h0M2833 651h0M2747 343h0M2666 677h0M2718 218h0M2742 231h0M1901 538h0M2763 480h0M2604 295h0M2619 311h0M2695 638h0M2742 254h0M2614 747h0M2626 853h0M1872 622h0M1899 392h0M1929 266h0M1885 279h0M1613 259h0M2644 469h0M2633 479h0M1944 455h0M1919 456h0M1850 576h0M1874 584h0M1636 314h0M2759 716h0M2738 661h0M2690 220h0M1924 406h0M1756 412h0M1946 580h0M1955 250h0M1780 408h0M1787 258h0M2613 536h0M1909 609h0M2711 507h0M2617 344h0M2768 624h0" stroke="#f0e34e"/><path d="M2795 450h0M1817 407h0M1826 625h0M1923 302h0M1833 280h0M2674 524h0M2610 515h0M2708 566h0M2839 954h0M2645 262h0M1678 259h0M1695 243h0M1984 424h0M2665 593h0M2646 295h0M2754 309h0M1793 199h0M1846 530h0M1766 549h0M2668 645h0M2747 368h0M2710 342h0M2663 331h0M1688 365h0M2608 663h0M1831 164h0M1703 189h0M1904 627h0M1948 487h0M2673 169h0M1920 180h0M1797 605h0M2705 721h0M1670 321h0M1696 329h0M2810 991h0M1887 348h0M1978 523h0M2687 827h0M2693 546h0M1628 290h0M1645 228h0M1706 444h0M1950 391h0M2797 387h0M1827 606h0M2704 489h0M2020 311h0M1790 491h0M1803 275h0M2723 228h0M2712 653h0M1929 432h0M1887 421h0M1869 416h0M1866 364h0M2706 195h0M1681 386h0M2775 597h0M1635 251h0M1925 553h0M1759 352h0M1829 554h0M1812 564h0M2699 250h0M2712 264h0M2719 281h0M2775 568h0M1852 490h0M1642 318h0M1795 438h0M1957 527h0M1625 167h0M1786 519h0M2673 778h0M2690 269h0M1739 291h0M2605 607h0M1875 160h0" stroke="#eee851"/><path d="M1768 389h0M1748 383h0M2715 389h0M2631 381h0M2662 426h0M2743 693h0M2733 709h0M1862 255h0M1855 241h0M2729 498h0M2744 592h0M2685 566h0M1802 336h0M1731 215h0M1745 518h0M1789 464h0M2624 715h0M1813 196h0M1867 541h0M1827 519h0M1808 525h0M1744 545h0M1894 591h0M1890 257h0M1842 322h0M2701 750h0M2668 731h0M2662 708h0M1811 164h0M1722 194h0M1737 177h0M1736 240h0M1685 277h0M2643 429h0M1764 328h0M1785 326h0M1781 314h0M2654 770h0M1718 363h0M1731 450h0M1662 291h0M1624 221h0M1664 242h0M1684 164h0M1703 302h0M1766 487h0M1741 310h0M1740 272h0M1763 272h0M1780 279h0M2729 461h0M2740 475h0M1876 383h0M2581 230h0M2745 798h0M1895 569h0M1770 239h0M1803 430h0M1821 447h0M1715 172h0M1814 585h0M2691 452h0M1702 388h0M1869 514h0M2767 753h0M1698 349h0M1613 183h0M1867 304h0" stroke="#ecec53"/><path d="M1811 381h0M1791 381h0M1834 423h0M1884 228h0M1820 297h0M1840 259h0M2654 515h0M1787 355h0M1708 227h0M1753 218h0M1779 217h0M2736 181h0M1809 465h0M1832 471h0M1969 591h0M2723 679h0M1864 326h0M1814 355h0M1640 190h0M1755 251h0M1719 250h0M1707 269h0M1742 332h0M1652 283h0M1682 299h0M1672 221h0M1745 434h0M1736 481h0M1720 287h0M1864 400h0M1848 391h0M2712 597h0M2692 696h0M1816 253h0M1920 452h0M1753 363h0M1847 511h0M1831 500h0M1774 242h0M2747 625h0M1773 368h0M1804 506h0" stroke="#eaf155"/><path d="M1821 323h0M1723 519h0M1770 195h0M1788 538h0M1789 174h0M1835 362h0M2738 538h0M1827 234h0M1866 477h0M2694 176h0" stroke="#e9f558"/><path d="M1848 440h0M1833 341h0M1725 428h0M1761 309h0M1862 286h0M2667 239h0" stroke="#e7fa5a"/><path d="M574 427h0M634 475h0M443 454h0M648 642h0M434 516h0M479 497h0M522 476h0M504 553h0M526 561h0M564 571h0M582 559h0M630 379h0M620 573h0M602 574h0M551 612h0M542 629h0M644 446h0M601 478h0M469 655h0M609 389h0M640 547h0M485 604h0M458 595h0M423 481h0M592 514h0M597 517h0M645 626h0M510 607h0M548 646h0M555 540h0M567 534h0M579 543h0M593 618h0" stroke="#032333"/><path d="M663 592h0M643 482h0M602 639h0M658 647h0M605 671h0M592 670h0M461 246h0M458 501h0M489 488h0M506 483h0M523 465h0M551 449h0M563 451h0M564 321h0M454 664h0M519 560h0M535 736h0M546 729h0M490 326h0M625 566h0M528 635h0M594 400h0M570 403h0M440 430h0M440 567h0M443 613h0M506 717h0M639 536h0M489 577h0M535 415h0M529 406h0M489 509h0M479 519h0M570 494h0M661 625h0M650 626h0M619 710h0M606 687h0M502 636h0M495 652h0M650 690h0M625 676h0M457 546h0M519 534h0M588 366h0M477 474h0M502 391h0M500 406h0M557 384h0M441 726h0M579 384h0M629 662h0M619 622h0M521 576h0M522 689h0" stroke="#042539"/><path d="M644 597h0M654 486h0M597 167h0M586 663h0M576 663h0M548 667h0M515 664h0M615 279h0M447 508h0M541 457h0M509 284h0M463 301h0M488 302h0M489 314h0M526 350h0M544 615h0M610 461h0M433 646h0M558 409h0M428 577h0M440 578h0M473 695h0M426 697h0M455 718h0M478 718h0M514 718h0M540 701h0M651 397h0M633 415h0M621 418h0M603 431h0M687 578h0M623 536h0M501 589h0M480 582h0M683 474h0M459 210h0M455 470h0M651 512h0M563 364h0M538 358h0M543 493h0M668 610h0M816 686h0M622 727h0M627 702h0M564 635h0M552 641h0M548 536h0M436 399h0M438 403h0M539 592h0M508 409h0M536 233h0M528 244h0M554 267h0M480 455h0M467 404h0M427 505h0M510 303h0" stroke="#05263e"/><path d="M564 425h0M572 254h0M574 244h0M571 232h0M572 451h0M602 331h0M896 721h0M547 567h0M682 375h0M727 488h0M644 375h0M520 753h0M916 698h0M467 291h0M592 592h0M571 200h0M690 438h0M626 445h0M481 427h0M614 382h0M460 616h0M449 699h0M417 707h0M423 408h0M489 720h0M524 717h0M675 573h0M665 465h0M865 687h0M741 559h0M524 512h0M582 501h0M556 357h0M425 558h0M478 753h0M466 738h0M651 297h0M777 638h0M835 702h0M824 693h0M797 670h0M678 557h0M578 356h0M578 348h0M524 324h0M609 616h0M607 309h0M480 413h0M584 716h0M649 427h0M605 360h0M484 673h0" stroke="#062844"/><path d="M524 209h0M545 205h0M610 174h0M596 221h0M643 227h0M580 266h0M498 258h0M572 318h0M584 319h0M801 554h0M669 538h0M446 168h0M451 268h0M537 295h0M888 703h0M900 699h0M481 301h0M505 335h0M514 339h0M553 189h0M590 208h0M539 251h0M473 625h0M412 711h0M415 406h0M528 702h0M642 412h0M735 601h0M663 573h0M876 551h0M688 475h0M471 215h0M635 512h0M465 747h0M682 633h0M677 621h0M844 705h0M809 681h0M814 648h0M691 551h0M695 672h0M642 698h0M522 538h0M569 339h0M557 336h0M532 319h0M433 372h0M419 382h0M608 245h0M672 341h0M621 211h0M771 595h0M743 624h0M658 520h0M689 455h0" stroke="#08294a"/><path d="M664 496h0M539 206h0M624 190h0M508 253h0M475 254h0M641 319h0M678 323h0M784 564h0M775 570h0M438 664h0M761 510h0M750 508h0M489 162h0M461 271h0M487 275h0M877 715h0M526 177h0M656 441h0M454 696h0M437 229h0M419 227h0M711 598h0M729 607h0M755 617h0M720 561h0M707 572h0M811 531h0M932 663h0M939 741h0M478 220h0M451 213h0M732 578h0M451 471h0M710 390h0M632 288h0M787 656h0M825 638h0M845 646h0M431 352h0M507 694h0M485 199h0M637 252h0M595 247h0M588 289h0M616 308h0M659 342h0M670 355h0M564 281h0M564 293h0M418 499h0M499 201h0M700 490h0" stroke="#092b4f"/><path d="M413 464h0M650 184h0M617 224h0M707 266h0M671 312h0M761 579h0M700 531h0M674 534h0M439 278h0M903 699h0M534 184h0M581 211h0M723 449h0M706 446h0M697 446h0M532 262h0M883 577h0M860 581h0M804 626h0M411 623h0M416 617h0M722 407h0M749 608h0M810 425h0M490 187h0M911 663h0M928 731h0M491 222h0M418 732h0M406 559h0M778 645h0M690 602h0M416 313h0M422 314h0M427 327h0M690 288h0M442 366h0M704 651h0M426 252h0M417 256h0M669 343h0M588 183h0M676 397h0M753 550h0" stroke="#0a2c55"/><path d="M572 168h0M658 207h0M656 242h0M682 260h0M965 714h0M712 473h0M486 256h0M831 554h0M819 561h0M761 574h0M737 497h0M721 502h0M920 544h0M603 198h0M906 588h0M407 579h0M705 413h0M692 412h0M410 434h0M475 347h0M406 394h0M764 620h0M883 547h0M834 521h0M922 619h0M744 566h0M726 579h0M786 507h0M809 474h0M702 291h0M667 682h0M705 357h0M422 204h0M394 692h0M442 341h0" stroke="#0b2e5b"/><path d="M397 461h0M690 183h0M665 181h0M454 252h0M943 774h0M945 678h0M408 652h0M867 584h0M413 670h0M381 697h0M733 394h0M395 568h0M946 734h0M965 751h0M719 369h0M850 431h0M770 436h0M751 440h0M677 351h0M699 245h0M660 160h0M770 553h0" stroke="#0c2f60"/><path d="M673 208h0M955 704h0M733 471h0M690 332h0M941 564h0M696 225h0M419 289h0M771 301h0M739 422h0M720 441h0M387 615h0M957 630h0M840 507h0M925 638h0M1013 752h0M398 535h0M887 453h0M717 349h0M324 758h0" stroke="#0f3066"/><path d="M695 260h0M859 483h0M829 487h0M835 456h0M858 455h0M739 210h0M394 644h0M963 690h0M740 289h0M396 438h0M854 504h0M767 361h0M378 758h0M790 477h0M804 472h0M722 304h0M390 539h0M945 513h0M706 313h0M750 323h0M736 179h0M360 590h0M409 258h0" stroke="#13306d"/><path d="M824 331h0M790 283h0M392 463h0M713 262h0M817 367h0M869 482h0M412 164h0M1012 711h0M780 402h0M851 406h0M933 556h0M921 557h0M868 443h0M782 217h0M761 307h0M754 294h0M345 713h0M318 701h0M389 445h0M805 422h0M917 502h0M780 344h0M793 355h0M798 365h0M895 504h0M758 491h0M388 771h0M989 738h0M868 378h0M378 581h0" stroke="#183173"/><path d="M348 467h0M914 473h0M985 711h0M809 392h0M836 403h0M1065 866h0M804 439h0M870 456h0M761 218h0M991 648h0M965 598h0M373 518h0M359 530h0M785 377h0M866 516h0M1011 792h0M1058 792h0M348 667h0M400 331h0M784 240h0M760 267h0M739 338h0M748 171h0M781 321h0M318 793h0M404 255h0M1050 804h0" stroke="#1d3179"/><path d="M365 480h0M1043 707h0M1000 711h0M830 297h0M895 434h0M366 638h0M712 175h0M1004 532h0M352 436h0M324 559h0M322 515h0M842 345h0M344 568h0M1008 814h0M1043 778h0M354 492h0M794 258h0M732 167h0M329 622h0M844 432h0M346 596h0M792 166h0M1032 660h0M1056 845h0M815 275h0M815 340h0" stroke="#213180"/><path d="M810 316h0M360 474h0M1098 767h0M1089 765h0M875 345h0M1030 818h0M1037 762h0M1022 583h0M981 585h0M966 569h0M1077 824h0M991 669h0M318 583h0M824 349h0M1055 769h0M766 283h0M322 499h0" stroke="#263186"/><path d="M738 237h0M901 354h0M368 423h0M383 393h0M1039 765h0M1031 580h0M1097 796h0M387 329h0M1018 637h0M973 498h0M955 491h0M1082 705h0M1104 756h0" stroke="#2a318d"/><path d="M922 357h0M931 471h0M400 167h0M1108 736h0M857 288h0M1065 607h0M1028 547h0M873 315h0M849 310h0M365 456h0M1121 777h0M947 447h0M797 210h0M793 202h0M1129 719h0M381 321h0M835 174h0M792 231h0M337 421h0M1077 678h0" stroke="#2f3293"/><path d="M965 474h0M843 223h0M1137 885h0M859 306h0M851 333h0M855 273h0M852 266h0M959 432h0M1064 648h0M1045 554h0M1116 803h0M974 517h0M988 512h0M328 484h0M798 257h0M994 564h0M321 415h0M859 245h0M847 240h0M934 414h0M916 372h0M1122 896h0M1149 699h0" stroke="#343299"/><path d="M1065 666h0M1136 785h0M1074 628h0M1069 544h0M1045 568h0M385 356h0M804 167h0M1060 579h0M854 235h0M894 308h0" stroke="#38339b"/><path d="M1111 598h0M1056 598h0M863 312h0M357 341h0M881 272h0M983 402h0M833 201h0M918 324h0M368 314h0M844 178h0M1169 873h0M1159 865h0" stroke="#3d349b"/><path d="M901 195h0M985 454h0M933 302h0M1132 663h0M1104 629h0M1150 885h0M1154 831h0M1168 631h0M1062 455h0M1083 637h0M1060 553h0M1049 505h0M1062 531h0M357 303h0M917 257h0M886 226h0M1008 506h0M886 246h0" stroke="#42369a"/><path d="M952 363h0M982 383h0M1003 460h0M368 167h0M1106 568h0M1143 817h0M964 436h0M992 427h0M1213 719h0M1175 763h0M819 184h0M914 235h0M1179 878h0M323 393h0" stroke="#46379a"/><path d="M887 184h0M1220 756h0M1254 780h0M1077 482h0M1181 715h0M1231 743h0M1183 911h0M1255 827h0" stroke="#4b399a"/><path d="M997 382h0M1142 632h0M1044 440h0M977 345h0M1166 752h0M1080 512h0M1198 864h0M1107 540h0" stroke="#503a9a"/><path d="M1150 582h0M1184 891h0M1162 787h0M345 331h0M335 330h0M1182 579h0M1169 670h0M934 211h0M959 285h0M1170 694h0M1243 743h0M1198 645h0M1203 642h0M1196 765h0" stroke="#543b99"/><path d="M997 378h0M1019 387h0M1112 598h0M962 312h0M1229 762h0M1244 627h0M1115 527h0M1190 625h0M1176 622h0M1173 715h0M1022 350h0M1231 906h0M1255 858h0M1031 371h0M342 228h0M1208 620h0" stroke="#593d99"/><path d="M1040 390h0M981 326h0M341 251h0M1252 919h0M1172 581h0M968 241h0M963 267h0M1106 445h0" stroke="#5d3e99"/><path d="M1294 731h0M943 163h0M950 175h0M1032 391h0M1284 799h0M1258 638h0M1236 630h0M1319 880h0M1166 547h0M1286 905h0M1245 665h0M1120 476h0M1310 824h0M333 273h0M323 274h0M965 233h0M1105 459h0M324 302h0M1229 786h0" stroke="#614098"/><path d="M328 251h0M1221 536h0M1224 592h0M1192 519h0M1190 532h0M1286 859h0M1286 696h0M1086 415h0M1089 391h0M975 268h0M1298 927h0M326 295h0M1205 586h0M1220 579h0" stroke="#654297"/><path d="M936 176h0M1049 322h0M1394 877h0M1415 893h0M1351 916h0M1272 765h0M1208 540h0M1332 919h0M1378 895h0M1365 891h0M1144 492h0M1288 871h0M1263 656h0M991 257h0M1001 294h0" stroke="#694395"/><path d="M961 182h0M1191 467h0M1371 959h0M1054 356h0M1354 863h0M1308 770h0M1312 909h0M1159 429h0M1246 556h0M1188 512h0M1304 814h0M1003 271h0M1078 343h0M994 241h0M1262 604h0M1278 625h0M1021 305h0M1048 339h0" stroke="#6d4594"/><path d="M1306 722h0M1156 449h0M1411 981h0M1367 946h0M1427 893h0M1421 928h0M1425 951h0M1409 851h0M1343 912h0M1244 533h0M1383 900h0M1324 855h0M993 265h0M1215 515h0M961 216h0" stroke="#704793"/><path d="M1448 895h0M1469 973h0M1022 323h0M1013 323h0M1373 876h0M1364 911h0M1047 289h0M1381 910h0M1189 436h0M1164 432h0M1406 898h0M1291 635h0M1399 929h0M1278 606h0" stroke="#744992"/><path d="M1321 725h0M1456 875h0M995 169h0M1452 952h0M1034 262h0M1197 450h0M1315 709h0M1080 336h0M1017 191h0M1036 309h0" stroke="#784a91"/><path d="M1553 996h0M980 178h0M1197 425h0M1390 758h0M1163 404h0M1037 286h0M1456 816h0M1231 500h0M1414 837h0M1440 874h0" stroke="#7c4c90"/><path d="M1533 941h0M1551 945h0M1510 861h0M1536 962h0M1171 390h0M1407 882h0M1442 843h0M1046 266h0M1023 249h0M1012 205h0M1371 782h0M1305 620h0M1570 903h0M1538 920h0M1416 782h0M1498 996h0M1547 980h0" stroke="#804e8f"/><path d="M1364 709h0M1477 905h0M1241 473h0M1194 413h0M1227 427h0M1461 834h0M1030 213h0M1409 758h0M1364 769h0M1062 288h0M1093 301h0M1103 324h0M1586 914h0M1493 769h0" stroke="#834f8e"/><path d="M1566 1000h0M1587 994h0M1609 979h0M1155 379h0M1155 389h0M1060 262h0M1002 200h0M1243 391h0M1514 772h0M1308 582h0M1509 823h0M1423 738h0M1299 564h0M1483 798h0M1509 794h0M1246 487h0M1564 974h0" stroke="#87508d"/><path d="M1611 943h0M1142 368h0M1549 838h0M1111 321h0M1273 499h0M1047 199h0M1047 221h0" stroke="#8b528c"/><path d="M1379 702h0M1406 715h0M1626 954h0M1076 242h0M1211 372h0M1104 300h0" stroke="#8f538b"/><path d="M1527 696h0M1090 268h0M1451 665h0M1607 852h0M1123 286h0M1314 563h0M1177 336h0M1597 929h0M1334 635h0M1643 1014h0M1379 724h0" stroke="#92558a"/><path d="M1436 693h0M1427 703h0M1640 986h0M1275 474h0M1288 475h0M1102 273h0M1086 243h0M1201 369h0M1191 371h0M1181 369h0M1539 730h0M1621 897h0M1477 711h0M1078 210h0M1167 357h0" stroke="#965689"/><path d="M1449 696h0M1659 971h0M1600 804h0M1265 406h0M1510 650h0M1556 767h0M1464 667h0M1489 668h0M1472 591h0M1196 306h0" stroke="#9a5788"/><path d="M1279 422h0M1449 614h0M1501 647h0M1545 722h0M1577 762h0M1381 659h0M1392 647h0M1632 853h0M1422 684h0M1242 356h0M1629 784h0M1171 274h0M1160 282h0M1594 749h0M1410 636h0" stroke="#9d5987"/><path d="M1356 590h0M1355 580h0M1308 468h0M1160 252h0M1604 793h0M1455 599h0M1487 544h0M1498 690h0M1449 635h0M1568 724h0" stroke="#a15a86"/><path d="M1368 595h0M1540 653h0M1491 567h0M1707 1001h0M1476 625h0M1602 782h0M1757 1050h0M1079 181h0M1409 612h0M1220 320h0M1521 631h0M1426 588h0" stroke="#a55b84"/><path d="M1363 511h0M1341 558h0M1130 231h0M1504 570h0M1575 699h0M1142 254h0M1630 812h0M1548 725h0M1242 302h0M1656 897h0M1748 1044h0M1717 1029h0M1704 935h0M1152 283h0M1662 830h0M1107 184h0M1094 187h0M1529 627h0M1704 1046h0M1095 206h0" stroke="#a95d82"/><path d="M1402 556h0M1428 557h0M1484 499h0M1651 799h0M1264 343h0M1774 1041h0M1209 311h0M1486 470h0M1463 481h0M1695 969h0M1413 517h0M1617 769h0" stroke="#ad5e81"/><path d="M1200 241h0M1142 229h0M1582 653h0M1468 512h0M1259 289h0M1245 280h0M1729 958h0M1174 264h0M1331 424h0M1585 744h0" stroke="#b25f7f"/><path d="M1399 533h0M1480 389h0M1471 376h0M1461 437h0M1409 500h0M1600 717h0M1474 551h0M1590 675h0M1814 1047h0M1785 1043h0M1737 947h0M1733 984h0" stroke="#b6607e"/><path d="M1320 403h0M1772 983h0M1157 208h0M1285 301h0M1366 497h0M1723 929h0M1301 324h0" stroke="#ba627c"/><path d="M1380 514h0M1603 694h0M1345 441h0M1676 802h0M1634 760h0M1848 1060h0M1813 1025h0M1485 343h0M1756 943h0M1344 423h0M1798 1062h0M1505 443h0" stroke="#be637a"/><path d="M1405 415h0M1369 475h0M1541 557h0M1835 1049h0M1490 311h0M1356 458h0M1792 983h0" stroke="#c26478"/><path d="M1400 441h0M1519 497h0M1683 810h0M1256 230h0M1854 1060h0M1863 1019h0M1500 387h0" stroke="#c56676"/><path d="M1722 873h0M1438 359h0M1286 187h0M1459 257h0M1213 189h0M1701 816h0M1820 930h0M1463 322h0M1352 382h0M1181 182h0M1330 339h0" stroke="#c96773"/><path d="M1713 863h0M1776 885h0M1424 349h0M1389 421h0M1249 195h0M1275 210h0M1286 209h0M1449 270h0M1797 918h0M1871 956h0M2130 1094h0M1479 218h0M1478 193h0M1431 387h0" stroke="#cd6970"/><path d="M1318 284h0M2075 1087h0M1263 195h0M1241 190h0M1423 283h0M1842 945h0M1851 938h0M1773 918h0M1899 1020h0M1857 904h0M1674 770h0M1886 976h0M1965 1055h0M2123 1120h0M1368 372h0M1929 1011h0M1520 440h0" stroke="#d06a6d"/><path d="M1818 907h0M2218 1097h0M2121 1013h0M1999 1050h0M2327 1079h0M1910 1074h0M1316 253h0M2077 920h0M1418 323h0M1970 1066h0M2093 1118h0M2138 1111h0M1601 621h0M1755 897h0" stroke="#d46c6b"/><path d="M1991 1086h0M2071 1091h0M2100 1030h0M1877 991h0M2075 1115h0M2330 1141h0M2118 1097h0M1890 1002h0M1328 303h0M1642 671h0" stroke="#d86d68"/><path d="M2108 1002h0M2030 1072h0M2053 1096h0M2043 1035h0M2051 1029h0M1309 212h0M1931 880h0M1905 888h0M2339 1083h0M1421 250h0M1601 613h0M2282 1007h0M1967 940h0M2305 1124h0M2317 1139h0M2168 1037h0M1733 850h0M1571 561h0" stroke="#dc6f65"/><path d="M1528 420h0M2267 1117h0M2074 993h0M1355 281h0M2283 1097h0M2074 965h0M1413 205h0M1465 178h0M2278 991h0M2036 922h0M1524 395h0M2011 1016h0M2012 1022h0M2234 1000h0M1608 616h0M1615 622h0M2275 1013h0M2141 1092h0M2016 1101h0M1972 1014h0" stroke="#df7062"/><path d="M1536 422h0M2235 1101h0M2229 1101h0M2062 990h0M2029 993h0M1378 298h0M2039 1047h0M1318 167h0M2241 1046h0M1921 882h0M2518 1181h0M1715 787h0M2119 930h0M2216 936h0M1879 871h0M2052 959h0M2232 985h0M1853 838h0M2509 1152h0M2297 1006h0M2305 1006h0M1298 163h0M2069 1051h0M1934 940h0M2170 1096h0" stroke="#e2735f"/><path d="M1386 281h0M2550 1172h0M1665 699h0M1371 244h0M1950 873h0M2368 1061h0M2614 1212h0M1440 188h0M2265 1044h0M1771 816h0M2283 960h0M2274 964h0M2349 1047h0M1337 192h0M2111 914h0M2366 1139h0M2052 904h0" stroke="#e5765c"/><path d="M1316 186h0M1812 846h0M2430 1085h0M2563 1095h0M1795 813h0M2258 951h0M2241 953h0M1526 334h0M2483 1130h0M2522 1065h0M2500 1161h0M1948 854h0M1595 547h0M1685 734h0" stroke="#e77959"/><path d="M1764 791h0M2613 1192h0M2003 896h0M2173 924h0M2456 1111h0M2458 1094h0M1969 869h0M1391 185h0M1519 349h0M2446 1129h0M2459 1156h0M1361 189h0M2222 904h0" stroke="#ea7c56"/><path d="M1754 776h0M2630 1226h0M1818 800h0M1851 812h0M2548 1096h0M2499 1104h0M1516 264h0M1721 776h0M2232 953h0M2222 954h0M1514 233h0M2083 871h0M1504 191h0M2486 1079h0M1736 790h0" stroke="#ec7f52"/><path d="M2420 1118h0M2368 1033h0M2445 1085h0M2638 1235h0M1879 809h0M2448 1052h0M1613 576h0M1625 598h0M2031 859h0M1553 398h0M2540 1061h0M2509 1063h0M2504 1137h0M1518 247h0" stroke="#ee824f"/><path d="M1837 808h0M1856 809h0M2655 1181h0M2451 1131h0M2494 1046h0" stroke="#f1854c"/><path d="M1643 589h0M1672 651h0M2146 869h0M2604 1114h0M1543 324h0M2155 844h0M2657 1206h0M2623 1163h0M1764 758h0M2258 899h0" stroke="#f38849"/><path d="M1824 770h0M2158 871h0M2205 882h0M1611 509h0M1786 765h0M2598 1089h0" stroke="#f68b45"/><path d="M1950 817h0M2465 1012h0M2647 1181h0M2601 1057h0M2607 1143h0M1563 380h0M1858 766h0" stroke="#f78f44"/><path d="M1978 822h0M1664 596h0M1631 561h0M2229 882h0M1615 530h0" stroke="#f79343"/><path d="M1995 825h0M1634 571h0M2566 1028h0M1851 752h0M2043 823h0M1551 347h0M2657 1191h0M1624 515h0M1795 741h0" stroke="#f89642"/><path d="M2389 966h0M2335 881h0M1882 774h0M1560 282h0M2345 901h0M1976 799h0M1578 401h0" stroke="#f89a41"/><path d="M2202 844h0M2447 993h0M1613 446h0M1645 527h0M2290 888h0M1719 698h0M1703 653h0M3257 1374h0" stroke="#f99e40"/><path d="M2197 827h0M2597 1019h0M1781 712h0M2360 902h0M2626 1025h0M2668 1154h0M1690 638h0M2037 796h0" stroke="#f9a23f"/><path d="M1578 306h0M1615 417h0M1574 281h0M2499 987h0M2524 983h0M2531 993h0M2556 993h0M1740 671h0M2682 1187h0" stroke="#faa63e"/><path d="M1791 720h0M1713 677h0M1656 564h0M2643 1056h0M1702 632h0M2169 819h0M2662 1077h0" stroke="#fbaa3d"/><path d="M2192 816h0M2298 858h0M1632 498h0M1601 395h0M1910 735h0M1871 727h0M1591 365h0" stroke="#fbae3c"/><path d="M1884 712h0M2199 805h0M1680 593h0M1768 713h0M2440 933h0M1751 656h0M1538 189h0M2523 895h0M1999 759h0M1673 575h0" stroke="#fab33d"/><path d="M2399 905h0M1540 164h0M1956 740h0" stroke="#fab73f"/><path d="M1566 168h0M3016 915h0M1984 768h0M1633 400h0M2299 836h0M3010 362h0M1726 630h0M2448 920h0M2716 1205h0M3030 983h0M2147 799h0M2778 1152h0M1908 730h0M1704 615h0M2215 796h0" stroke="#f9bb40"/><path d="M2648 995h0M2957 1215h0M2879 1229h0M2855 1219h0M2398 730h0M2610 951h0M2569 933h0M2364 842h0M3023 911h0M2692 1094h0M1585 300h0M2989 952h0M2519 417h0M2812 1223h0M2858 1173h0M1739 653h0M2710 1246h0M1933 720h0M2978 179h0M2705 1055h0M3003 987h0M2472 900h0M1817 683h0M2000 756h0M3030 939h0" stroke="#f9c041"/><path d="M2639 995h0M2946 833h0M2604 895h0M3000 678h0M2203 396h0M3005 709h0M2070 698h0M2985 1191h0M3025 1203h0M3024 1256h0M2416 887h0M2572 942h0M2044 764h0M2146 767h0M2816 1119h0M2524 213h0M2222 630h0M3025 272h0M2970 492h0M2094 416h0M2229 252h0M2162 394h0M2709 1132h0M2961 1136h0M2967 920h0M1659 440h0M2261 805h0M2260 441h0M2959 680h0M2948 688h0M2496 857h0M2916 891h0M2956 1156h0M2966 528h0M2841 1072h0M2279 664h0M1948 722h0M2996 984h0M3007 518h0M3013 542h0M2315 234h0M2912 1177h0M2189 331h0M3008 1052h0M3026 207h0M2847 1240h0" stroke="#f8c442"/><path d="M2279 181h0M3010 671h0M3016 675h0M3030 682h0M2361 730h0M2995 298h0M3028 286h0M2681 936h0M3034 707h0M2442 580h0M2030 702h0M2987 1060h0M2302 241h0M3016 1255h0M2965 400h0M2518 276h0M2583 959h0M2125 352h0M2870 1028h0M2987 1001h0M2407 265h0M2389 676h0M2403 682h0M2228 503h0M2467 791h0M2568 561h0M1592 336h0M2190 526h0M1640 395h0M2083 294h0M3029 824h0M2194 242h0M2857 1031h0M2337 802h0M1697 497h0M1802 648h0M3019 1131h0M2919 503h0M2367 439h0M2432 511h0M2453 169h0M2213 166h0M2951 1259h0M2986 553h0M3020 848h0M2516 841h0M3014 1078h0M1600 376h0M2559 679h0M2588 341h0M3010 1277h0M2116 237h0M2472 618h0M3023 251h0M2374 256h0M2482 287h0M2895 1016h0M2355 707h0M2553 795h0M2280 712h0M2567 908h0M1673 540h0M2338 494h0M2341 584h0" stroke="#f7c943"/><path d="M2855 369h0M2314 182h0M2453 341h0M2939 1235h0M2936 835h0M2851 1148h0M2148 711h0M2012 389h0M2309 590h0M1974 707h0M1941 690h0M2856 996h0M2362 223h0M2983 301h0M2519 681h0M2375 527h0M2405 543h0M2045 710h0M2111 716h0M2431 725h0M2224 746h0M2289 766h0M2297 766h0M2127 315h0M3002 1243h0M3014 438h0M2417 802h0M1927 667h0M2014 668h0M2915 710h0M2986 813h0M2915 909h0M2879 1094h0M2248 323h0M2192 352h0M2828 1048h0M2528 609h0M2206 619h0M2297 645h0M2841 293h0M2205 527h0M2943 593h0M2537 398h0M2312 402h0M2342 450h0M2873 1118h0M2886 586h0M2351 314h0M2912 383h0M2404 827h0M2243 362h0M3003 625h0M2997 1135h0M2948 1125h0M2560 423h0M2941 926h0M2561 305h0M2862 865h0M2911 496h0M2895 488h0M2963 377h0M2376 448h0M2235 451h0M2928 187h0M2957 986h0M2997 847h0M2329 366h0M2766 1036h0M2445 377h0M2957 876h0M2939 880h0M2569 723h0M3024 856h0M2153 184h0M2309 611h0M2106 165h0M2116 167h0M2356 485h0M2925 743h0M2314 464h0M2507 528h0M2291 682h0M2531 519h0M2745 567h0M1589 229h0M3025 509h0M2945 269h0M2481 894h0M2855 528h0M2244 579h0M2143 561h0M2487 428h0M2276 693h0M2546 559h0M2991 923h0M2906 344h0M2427 775h0M2116 386h0M1619 382h0" stroke="#f7cd44"/><path d="M2012 223h0M2957 837h0M2613 892h0M2456 633h0M2169 699h0M2169 687h0M2297 595h0M2345 234h0M2374 225h0M2796 541h0M2337 520h0M2354 530h0M2888 670h0M2208 394h0M2518 561h0M2464 572h0M2808 863h0M2228 293h0M2246 287h0M2378 642h0M2389 655h0M2543 318h0M2437 233h0M1998 346h0M2068 341h0M2140 350h0M2024 732h0M2940 705h0M2990 734h0M1582 169h0M2275 584h0M2336 289h0M2406 246h0M2450 262h0M2913 301h0M2316 704h0M2327 690h0M2262 323h0M2469 597h0M2208 599h0M2219 598h0M2979 1023h0M2055 271h0M2027 563h0M2948 179h0M2195 538h0M2925 594h0M2021 449h0M2948 767h0M2550 401h0M2389 470h0M2412 478h0M2423 404h0M2885 597h0M2137 592h0M2784 984h0M2906 377h0M2030 470h0M2040 161h0M2542 440h0M2969 927h0M2914 243h0M2506 222h0M2455 215h0M3008 650h0M3000 469h0M2972 449h0M2249 437h0M2816 355h0M2773 1117h0M2938 361h0M2942 353h0M2279 501h0M2449 179h0M2946 985h0M2217 173h0M2748 1037h0M2460 889h0M2560 173h0M2540 484h0M2859 943h0M2406 781h0M2633 763h0M2334 607h0M2894 1172h0M2144 164h0M2068 509h0M2059 356h0M2363 491h0M2205 707h0M2379 784h0M2144 425h0M2490 165h0M2940 497h0M2575 745h0M1993 240h0M2146 623h0M2903 1057h0M2163 497h0M2163 493h0M2151 487h0M1595 247h0M2940 321h0M2949 1048h0M2336 706h0M2573 792h0M2586 317h0M2198 656h0M2193 593h0M2057 579h0" stroke="#f6d146"/><path d="M2848 385h0M1682 421h0M2766 823h0M2482 331h0M2467 355h0M2440 344h0M2027 188h0M1983 216h0M1995 214h0M2675 986h0M2664 991h0M2785 682h0M2896 796h0M2672 868h0M2167 704h0M2025 389h0M2866 999h0M2915 975h0M2343 729h0M2986 305h0M3008 301h0M2450 308h0M2287 214h0M2274 222h0M2671 939h0M2397 535h0M2756 922h0M2720 949h0M2266 389h0M2548 575h0M2509 560h0M2598 553h0M2389 738h0M2385 753h0M2888 173h0M2571 444h0M2594 450h0M2155 741h0M2796 205h0M2537 288h0M2241 555h0M2087 339h0M2634 734h0M2958 721h0M1588 175h0M2260 593h0M2879 1029h0M2116 444h0M2844 1108h0M2345 277h0M2399 270h0M2864 344h0M2260 519h0M2282 315h0M2202 349h0M2557 618h0M2022 278h0M2569 659h0M2857 695h0M2546 268h0M3007 775h0M2216 315h0M2325 406h0M2355 462h0M2380 470h0M2887 522h0M2411 390h0M2001 365h0M1721 573h0M2806 757h0M2746 281h0M2785 245h0M2655 959h0M2712 996h0M2837 1006h0M2854 610h0M2918 647h0M2060 482h0M2033 477h0M2371 563h0M2563 364h0M2949 917h0M2853 858h0M2904 264h0M2449 208h0M2766 646h0M2811 654h0M2856 653h0M2983 341h0M2347 396h0M2349 401h0M2353 387h0M1875 649h0M2273 438h0M2256 459h0M2866 765h0M2854 751h0M2311 382h0M2471 532h0M2618 302h0M2510 467h0M2975 851h0M2929 889h0M2540 729h0M2603 725h0M2007 263h0M2246 676h0M2581 838h0M2902 776h0M3008 1086h0M2240 700h0M2367 782h0M2568 686h0M2303 462h0M2913 161h0M2152 374h0M2866 306h0M2592 272h0M2974 162h0M3022 988h0M2953 268h0M2490 194h0M2760 1014h0M2017 529h0M2136 292h0M1946 251h0M2587 322h0M2439 438h0M2482 394h0M2811 927h0M2617 185h0M2084 182h0M2815 699h0M2785 854h0M2195 745h0M2171 514h0" stroke="#f5d647"/><path d="M1701 419h0M2419 326h0M2695 385h0M2859 254h0M1961 175h0M1870 454h0M2582 811h0M2857 840h0M1906 225h0M2525 638h0M2954 645h0M2594 778h0M2567 768h0M2853 555h0M2310 220h0M2726 924h0M2684 526h0M2928 690h0M2850 963h0M2561 578h0M2537 575h0M2257 757h0M2801 875h0M2832 848h0M2161 749h0M2769 210h0M2822 217h0M2736 184h0M2287 542h0M2437 831h0M2643 741h0M1912 663h0M2000 671h0M2621 283h0M2650 294h0M2750 311h0M2776 298h0M2399 279h0M2426 257h0M2367 668h0M2277 317h0M2119 538h0M2732 361h0M2563 623h0M2501 598h0M2814 245h0M2071 264h0M2009 556h0M1999 565h0M1991 553h0M2663 706h0M2953 482h0M2910 440h0M2837 299h0M2223 583h0M2850 414h0M2769 734h0M2829 735h0M2432 416h0M2414 393h0M1761 581h0M2715 719h0M2890 570h0M2727 998h0M1999 518h0M2715 835h0M2737 1111h0M2090 245h0M2565 333h0M2965 252h0M2836 652h0M1930 165h0M2360 410h0M2209 478h0M2880 972h0M1778 277h0M2256 465h0M2876 757h0M2231 172h0M2867 782h0M2830 929h0M2592 724h0M1861 629h0M2593 235h0M2027 243h0M1938 270h0M2778 597h0M2535 829h0M2585 688h0M1929 567h0M1992 497h0M2215 647h0M2767 668h0M2768 1013h0M2541 350h0M1952 250h0" stroke="#f3da4a"/><path d="M2701 801h0M2781 834h0M2688 398h0M2771 449h0M2818 679h0M2722 868h0M2688 865h0M2467 641h0M2604 779h0M1907 300h0M2767 532h0M2738 912h0M2760 889h0M2664 520h0M2480 556h0M2825 176h0M2271 759h0M2032 331h0M1736 534h0M2582 472h0M1815 215h0M2902 915h0M2731 350h0M2677 744h0M2888 709h0M1733 188h0M1914 529h0M1952 552h0M2031 444h0M1932 642h0M1958 493h0M2782 733h0M2853 735h0M1888 171h0M2640 795h0M1669 300h0M2600 411h0M2602 423h0M1961 403h0M2772 348h0M2783 388h0M2686 475h0M2643 651h0M2581 725h0M1941 438h0M2815 597h0M2650 480h0M2765 328h0M2720 285h0M2762 568h0M2623 533h0M2792 813h0M1698 353h0M1993 408h0" stroke="#f1df4c"/><path d="M1822 384h0M2691 802h0M1902 460h0M2753 518h0M2755 892h0M2804 953h0M2645 569h0M2783 218h0M2755 181h0M2623 719h0M2650 592h0M2688 615h0M2661 311h0M2015 583h0M1849 533h0M1772 541h0M1836 327h0M2704 749h0M2865 461h0M2073 314h0M2016 470h0M1746 243h0M2623 166h0M2050 286h0M2036 352h0M2709 720h0M1875 345h0M1977 518h0M1673 225h0M2699 489h0M2639 640h0M2649 656h0M2729 212h0M1891 529h0M2731 460h0M2868 939h0M1917 426h0M1857 411h0M2713 615h0M2705 590h0M1901 395h0M2070 515h0M2073 521h0M1925 344h0M2743 799h0M1915 456h0M1980 493h0M1805 562h0M1862 477h0M2808 180h0M1845 301h0M2705 461h0M1704 400h0M1868 513h0M2635 248h0" stroke="#f0e34e"/><path d="M1841 432h0M2744 696h0M1931 310h0M2758 526h0M2786 538h0M2614 556h0M1782 220h0M2767 184h0M2727 171h0M1806 203h0M1804 525h0M1797 534h0M2650 700h0M1835 162h0M2838 417h0M1923 534h0M1776 325h0M1788 327h0M2740 535h0M1660 290h0M1765 434h0M1719 432h0M2679 467h0M2716 215h0M1884 283h0M2655 485h0M2773 425h0M2605 624h0M1825 560h0M2712 260h0M2714 277h0M1852 497h0M2675 907h0M2677 232h0M2747 971h0M2770 754h0M1739 293h0" stroke="#eee851"/><path d="M2691 430h0M2665 433h0M1846 437h0M1855 445h0M1830 280h0M1865 255h0M1844 234h0M2735 502h0M2713 564h0M1802 332h0M1681 258h0M2784 295h0M1866 544h0M1902 589h0M1889 261h0M1654 352h0M2640 683h0M1797 171h0M1682 184h0M1686 326h0M1729 334h0M2644 780h0M2751 543h0M2729 548h0M1637 218h0M1924 381h0M1786 491h0M1774 492h0M1769 484h0M1749 306h0M1798 275h0M2716 605h0M1867 361h0M2692 198h0M1660 206h0M1846 498h0M1821 493h0M1640 319h0M1793 426h0M1637 164h0M1786 506h0M1845 186h0M1686 213h0M2756 751h0M1618 241h0" stroke="#ecec53"/><path d="M1810 385h0M1831 290h0M2741 593h0M1721 227h0M1744 513h0M1843 319h0M1739 335h0M1688 162h0M1741 273h0M1844 399h0M1857 281h0M1813 255h0M1829 559h0M1626 163h0" stroke="#eaf155"/><path d="M1793 376h0M1833 343h0M1856 168h0M1778 316h0M2683 551h0M1727 424h0M1707 299h0M1727 317h0" stroke="#e9f558"/><path d="M1791 353h0M1809 329h0M1767 215h0M1779 306h0M1885 200h0M1742 433h0M1797 433h0" stroke="#e7fa5a"/><path d="M647 642h0M512 665h0M498 490h0M490 328h0M591 590h0M572 607h0M612 457h0M558 403h0M455 422h0M465 566h0M502 367h0M608 534h0M488 604h0M490 597h0M579 478h0M586 515h0M655 622h0M461 544h0M519 531h0M536 340h0M511 459h0M556 470h0M566 511h0M542 689h0M623 628h0M580 626h0" stroke="#032333"/><path d="M627 481h0M619 487h0M608 496h0M594 640h0M580 667h0M496 543h0M633 372h0M571 732h0M626 570h0M464 424h0M477 430h0M457 596h0M445 597h0M525 511h0M418 552h0M611 710h0M516 598h0M466 536h0M467 405h0" stroke="#042539"/><path d="M641 603h0M434 463h0M606 666h0M595 270h0M438 514h0M552 452h0M504 550h0M561 725h0M635 443h0M633 446h0M420 675h0M451 611h0M627 416h0M522 396h0M726 584h0M663 628h0M830 700h0M625 674h0M703 625h0M483 673h0" stroke="#05263e"/><path d="M649 478h0M653 653h0M618 276h0M573 238h0M496 252h0M615 334h0M465 673h0M541 734h0M523 353h0M655 442h0M458 644h0M590 405h0M477 619h0M484 359h0M480 693h0M458 692h0M712 595h0M488 580h0M494 181h0M433 554h0M470 735h0M609 719h0M606 702h0M690 603h0M681 678h0M440 546h0M521 377h0M478 414h0M423 506h0M579 385h0M686 459h0" stroke="#062844"/><path d="M659 593h0M447 454h0M650 212h0M442 504h0M565 321h0M589 317h0M593 325h0M629 329h0M471 658h0M439 635h0M452 570h0M407 620h0M418 623h0M443 613h0M471 695h0M422 707h0M655 391h0M728 600h0M708 571h0M422 750h0M451 467h0M650 511h0M538 491h0M681 561h0M707 544h0M520 317h0M616 316h0M560 290h0M419 500h0M650 426h0" stroke="#08294a"/><path d="M642 233h0M512 248h0M572 316h0M658 311h0M687 327h0M798 554h0M707 523h0M685 528h0M466 344h0M490 221h0M462 517h0M742 528h0M936 717h0M401 689h0M461 441h0" stroke="#092b4f"/><path d="M671 179h0M659 280h0M673 371h0M856 577h0M745 439h0M773 548h0" stroke="#0a2c55"/><path d="M397 464h0M412 467h0M688 201h0M664 311h0M666 374h0M429 173h0M785 431h0M692 229h0M949 662h0M721 441h0" stroke="#0b2e5b"/><path d="M684 180h0M673 202h0M400 391h0M401 739h0M715 292h0M374 658h0" stroke="#0c2f60"/><path d="M704 259h0M348 543h0M891 496h0M959 761h0M397 761h0M768 520h0M765 441h0" stroke="#0f3066"/><path d="M813 445h0M743 289h0M398 713h0M808 418h0M701 291h0" stroke="#13306d"/><path d="M790 283h0M668 237h0M735 243h0M343 646h0M736 274h0M331 718h0M318 710h0M381 561h0M391 372h0M735 305h0M327 605h0M381 490h0" stroke="#183173"/><path d="M990 706h0M361 435h0M956 625h0M755 342h0M995 671h0M402 251h0M365 673h0" stroke="#1d3179"/><path d="M1081 867h0M730 185h0M1062 773h0" stroke="#213180"/><path d="M325 536h0M1037 767h0M1043 803h0M346 405h0" stroke="#263186"/><path d="M1073 608h0M1070 763h0M1012 561h0" stroke="#2f3293"/><path d="M922 356h0M858 352h0M321 414h0M858 244h0M1081 685h0" stroke="#343299"/><path d="M909 354h0M389 185h0M857 234h0" stroke="#38339b"/><path d="M954 365h0M925 385h0M1191 816h0M950 383h0" stroke="#3d349b"/><path d="M832 181h0M1151 705h0" stroke="#42369a"/><path d="M976 401h0M1195 715h0M1187 872h0" stroke="#46379a"/><path d="M897 190h0M361 339h0M879 163h0M1173 761h0" stroke="#4b399a"/><path d="M1207 753h0" stroke="#503a9a"/><path d="M1140 559h0" stroke="#543b99"/><path d="M1230 720h0M1180 577h0M946 257h0" stroke="#593d99"/><path d="M1255 810h0M1152 549h0M327 331h0M1004 347h0M1319 854h0" stroke="#5d3e99"/><path d="M1252 903h0M956 201h0" stroke="#614098"/><path d="M1091 453h0" stroke="#654297"/><path d="M981 244h0" stroke="#694395"/><path d="M986 209h0M1501 993h0" stroke="#6d4594"/><path d="M1208 538h0M1244 580h0M1205 504h0" stroke="#704793"/><path d="M969 184h0M323 172h0M1370 918h0M1371 805h0" stroke="#744992"/><path d="M1362 878h0M1053 283h0" stroke="#784a91"/><path d="M1488 902h0M1219 478h0M992 206h0M1372 796h0M1011 231h0M1111 373h0" stroke="#7c4c90"/><path d="M1374 774h0M1258 525h0M1446 756h0M1441 776h0" stroke="#804e8f"/><path d="M1512 957h0M1156 429h0M1428 794h0M1409 798h0" stroke="#834f8e"/><path d="M1337 657h0M1027 177h0" stroke="#87508d"/><path d="M1549 950h0M1179 365h0" stroke="#8b528c"/><path d="M1446 716h0" stroke="#8f538b"/><path d="M1622 953h0" stroke="#92558a"/><path d="M1321 564h0M1471 690h0" stroke="#965689"/><path d="M1264 359h0M1644 1021h0" stroke="#9a5788"/><path d="M1107 246h0M1386 663h0M1299 491h0M1068 176h0M1187 295h0" stroke="#9d5987"/><path d="M1685 936h0M1524 668h0" stroke="#a15a86"/><path d="M1128 253h0M1651 892h0M1377 586h0" stroke="#a55b84"/><path d="M1638 810h0M1316 483h0" stroke="#a95d82"/><path d="M1278 353h0M1626 793h0M1756 1052h0" stroke="#ad5e81"/><path d="M1169 235h0M1676 912h0M1187 259h0M1242 236h0" stroke="#b25f7f"/><path d="M1244 278h0" stroke="#ba627c"/><path d="M1142 179h0M1516 470h0M1306 351h0M1816 963h0M1816 1046h0" stroke="#be637a"/><path d="M1746 914h0" stroke="#c26478"/><path d="M1369 477h0M1229 216h0M1799 980h0" stroke="#c56676"/><path d="M1263 214h0M1217 174h0M1497 397h0" stroke="#c96773"/><path d="M1841 988h0" stroke="#cd6970"/><path d="M1239 196h0M1319 238h0M1478 194h0M2056 1112h0" stroke="#d06a6d"/><path d="M1282 233h0M1635 685h0" stroke="#d46c6b"/><path d="M1826 900h0M2009 1055h0M2303 1144h0" stroke="#d86d68"/><path d="M1347 265h0M1399 331h0M2018 1097h0M2158 992h0" stroke="#dc6f65"/><path d="M2049 1000h0" stroke="#df7062"/><path d="M2029 994h0M2313 1089h0M2429 1154h0M1955 940h0" stroke="#e2735f"/><path d="M1371 344h0M2170 941h0M2247 918h0M1960 872h0" stroke="#e5765c"/><path d="M2146 917h0" stroke="#e77959"/><path d="M2269 927h0M1889 891h0M2603 1110h0M1391 254h0M1878 870h0M1536 395h0" stroke="#ea7c56"/><path d="M2401 1041h0M2431 1065h0M1601 576h0" stroke="#ec7f52"/><path d="M1676 654h0M1757 779h0M2041 854h0M2101 858h0" stroke="#f1854c"/><path d="M2628 1171h0M2083 855h0M1700 674h0" stroke="#f38849"/><path d="M2644 1151h0" stroke="#f68b45"/><path d="M2627 1123h0" stroke="#f78f44"/><path d="M1731 737h0M1741 734h0M1656 613h0" stroke="#f79343"/><path d="M2536 994h0" stroke="#f89a41"/><path d="M2596 1020h0" stroke="#f9a23f"/><path d="M1808 724h0M1546 234h0" stroke="#faa63e"/><path d="M1865 746h0M2343 880h0M1761 677h0M2259 841h0M1553 238h0" stroke="#fbaa3d"/><path d="M2804 1172h0M2749 1181h0" stroke="#f9bb40"/><path d="M2639 997h0M2588 960h0M2420 855h0" stroke="#f9c041"/><path d="M2899 1230h0M2263 217h0M2733 1161h0M2993 438h0M2146 590h0M2915 1116h0M3015 653h0M2253 801h0" stroke="#f8c442"/><path d="M2382 350h0M2291 769h0M2966 998h0M1593 270h0M3017 364h0M2419 391h0M1674 450h0M2990 461h0M3027 337h0M2485 432h0" stroke="#f7c943"/><path d="M2314 185h0M2408 625h0M2306 266h0M2913 674h0M2201 733h0M2278 261h0M2487 728h0M2145 744h0M2318 534h0M2054 670h0M2354 269h0M2288 520h0M2546 267h0M2661 954h0M2893 960h0M2309 498h0M2536 726h0M2147 206h0M2582 215h0M2490 164h0M2985 163h0M3031 1171h0M2283 481h0" stroke="#f7cd44"/><path d="M2863 837h0M2895 994h0M2348 737h0M2209 388h0M2042 711h0M2320 770h0M2540 285h0M2276 583h0M2286 578h0M2322 637h0M2322 316h0M2103 201h0M2053 186h0M1694 499h0M2959 328h0M2880 974h0M2553 176h0M2970 850h0M2332 659h0M2811 699h0M2114 386h0M2322 520h0" stroke="#f6d146"/><path d="M1976 718h0M2771 885h0M2207 438h0M2425 722h0M2152 747h0M2737 1073h0M2430 475h0M2885 566h0M2248 368h0M2128 410h0M2051 175h0M2802 649h0M2254 454h0M2491 861h0M3019 855h0M2608 846h0M2575 838h0M3010 1088h0M2241 577h0M2915 536h0M2883 287h0M2779 1048h0" stroke="#f5d647"/><path d="M2323 773h0M2437 820h0M2831 329h0M2010 365h0M2629 816h0M2869 938h0M2834 923h0M2868 311h0M2020 537h0" stroke="#f3da4a"/><path d="M2671 451h0M2627 782h0M2635 509h0M2395 713h0M2647 745h0M2774 303h0M2801 504h0M2637 175h0M2134 594h0M1793 299h0M1674 301h0M2870 870h0M1938 165h0M2731 214h0M2148 264h0M2403 578h0M2629 482h0M2077 573h0M2847 194h0M1708 551h0M2541 669h0" stroke="#f1df4c"/><path d="M2661 398h0M2750 445h0M2614 804h0M2754 895h0M2708 342h0M1935 540h0M1965 563h0M2850 907h0M2751 255h0M2773 328h0M2746 623h0M2742 161h0" stroke="#f0e34e"/><path d="M2747 589h0M2830 848h0M1708 525h0M2783 188h0M1686 369h0M2781 241h0M2678 232h0" stroke="#eee851"/><path d="M1824 417h0M1714 364h0M2783 487h0M1865 366h0" stroke="#ecec53"/><path d="M1714 193h0M1751 356h0M1637 164h0M1853 349h0" stroke="#eaf155"/><path d="M1729 185h0" stroke="#e7fa5a"/><path d="M1173 160h0" stroke="#343299"/><path d="M1412 302h0M1338 382h0" stroke="#3d349b"/><path d="M1439 160h0" stroke="#704793"/><path d="M1796 239h0" stroke="#834f8e"/><path d="M1830 160h0" stroke="#92558a"/><path d="M2029 366h0" stroke="#d46c6b"/><path d="M2077 179h0M2140 302h0M2134 612h0" stroke="#dc6f65"/><path d="M2317 857h0" stroke="#e5765c"/><path d="M2274 392h0M2349 842h0" stroke="#ea7c56"/><path d="M1470 160h0" stroke="#f79343"/></g><path d="M253.5 1440.5V99.2M666.9 1440.5V99.2M1080.4 1440.5V99.2M1493.8 1440.5V99.2M1907.2 1440.5V99.2M2320.7 1440.5V99.2M2734.1 1440.5V99.2M3147.5 1440.5V99.2" stroke="#b0b0b0" stroke-opacity="0.3" stroke-width="3.33" stroke-dasharray="12.333 5.333" fill="none"/><path d="M177.5 296.4H3462.3M177.5 569.7H3462.3M177.5 842.9H3462.3M177.5 1116.2H3462.3M177.5 1389.5H3462.3" stroke="#b0b0b0" stroke-opacity="0.3" stroke-width="3.33" stroke-dasharray="12.333 5.333" fill="none"/><rect x="230.4" y="113.3" width="516.0" height="212.0" rx="20.8" ry="20.8" fill="#fff" fill-opacity="0.9" stroke="#000" stroke-opacity="0.9" stroke-width="4.17"/><text x="241.6" y="159.9" font-size="44.20" textLength="410.0" lengthAdjust="spacingAndGlyphs">Data Points: 11,115</text><text x="241.6" y="207.7" font-size="44.20" textLength="491.0" lengthAdjust="spacingAndGlyphs">Range: 23.041 - 25.062</text><text x="241.6" y="256.4" font-size="44.20" textLength="285.5" lengthAdjust="spacingAndGlyphs">Mean: 24.217</text><text x="243.6" y="303.7" font-size="44.20" textLength="307.0" lengthAdjust="spacingAndGlyphs">Std Dev: 0.699</text><rect x="177.5" y="99.2" width="3284.8" height="1341.3" fill="none" stroke="#000" stroke-width="3.33" stroke-linejoin="miter"/><path d="M253.5 1440.5v14.6M666.9 1440.5v14.6M1080.4 1440.5v14.6M1493.8 1440.5v14.6M1907.2 1440.5v14.6M2320.7 1440.5v14.6M2734.1 1440.5v14.6M3147.5 1440.5v14.6M177.5 296.4h-14.6M177.5 569.7h-14.6M177.5 842.9h-14.6M177.5 1116.2h-14.6M177.5 1389.5h-14.6M3594.5 1195.5h14.6M3594.5 1062.8h14.6M3594.5 930.0h14.6M3594.5 797.3h14.6M3594.5 664.6h14.6M3594.5 531.8h14.6M3594.5 399.1h14.6M3594.5 266.4h14.6" stroke="#000" stroke-width="3.33" fill="none"/><rect x="3541.5" y="233.5" width="53.0" height="1071.5" fill="url(#cb)" fill-opacity="0.8" stroke="#000" stroke-width="3.33"/><text x="145.7" y="313.2" font-size="44.20" text-anchor="end" textLength="50.5" lengthAdjust="spacingAndGlyphs">10</text><text x="145.7" y="586.5" font-size="44.20" text-anchor="end" textLength="50.5" lengthAdjust="spacingAndGlyphs">20</text><text x="145.7" y="859.7" font-size="44.20" text-anchor="end" textLength="50.5" lengthAdjust="spacingAndGlyphs">30</text><text x="145.7" y="1133.0" font-size="44.20" text-anchor="end" textLength="50.5" lengthAdjust="spacingAndGlyphs">40</text><text x="145.7" y="1406.3" font-size="44.20" text-anchor="end" textLength="50.5" lengthAdjust="spacingAndGlyphs">50</text><text x="245.3" y="1495.3" font-size="44.20" text-anchor="end" textLength="243.5" lengthAdjust="spacingAndGlyphs" transform="rotate(-45.0 245.3 1495.3)">2025-12-05</text><text x="658.7" y="1495.3" font-size="44.20" text-anchor="end" textLength="243.5" lengthAdjust="spacingAndGlyphs" transform="rotate(-45.0 658.7 1495.3)">2025-12-06</text><text x="1072.2" y="1495.3" font-size="44.20" text-anchor="end" textLength="243.5" lengthAdjust="spacingAndGlyphs" transform="rotate(-45.0 1072.2 1495.3)">2025-12-07</text><text x="1485.6" y="1495.3" font-size="44.20" text-anchor="end" textLength="243.5" lengthAdjust="spacingAndGlyphs" transform="rotate(-45.0 1485.6 1495.3)">2025-12-08</text><text x="1899.0" y="1495.3" font-size="44.20" text-anchor="end" textLength="243.5" lengthAdjust="spacingAndGlyphs" transform="rotate(-45.0 1899.0 1495.3)">2025-12-09</text><text x="2312.5" y="1495.3" font-size="44.20" text-anchor="end" textLength="243.5" lengthAdjust="spacingAndGlyphs" transform="rotate(-45.0 2312.5 1495.3)">2025-12-10</text><text x="2725.9" y="1495.3" font-size="44.20" text-anchor="end" textLength="243.5" lengthAdjust="spacingAndGlyphs" transform="rotate(-45.0 2725.9 1495.3)">2025-12-11</text><text x="3139.3" y="1495.3" font-size="44.20" text-anchor="end" textLength="243.5" lengthAdjust="spacingAndGlyphs" transform="rotate(-45.0 3139.3 1495.3)">2025-12-12</text><text x="3624.0" y="1215.2" font-size="53.00" textLength="142.0" lengthAdjust="spacingAndGlyphs">23.25</text><text x="3624.0" y="1082.5" font-size="53.00" textLength="142.0" lengthAdjust="spacingAndGlyphs">23.50</text><text x="3624.0" y="949.7" font-size="53.00" textLength="142.0" lengthAdjust="spacingAndGlyphs">23.75</text><text x="3624.0" y="817.0" font-size="53.00" textLength="142.0" lengthAdjust="spacingAndGlyphs">24.00</text><text x="3624.0" y="684.3" font-size="53.00" textLength="142.0" lengthAdjust="spacingAndGlyphs">24.25</text><text x="3624.0" y="551.5" font-size="53.00" textLength="142.0" lengthAdjust="spacingAndGlyphs">24.50</text><text x="3624.0" y="418.8" font-size="53.00" textLength="142.0" lengthAdjust="spacingAndGlyphs">24.75</text><text x="3624.0" y="286.1" font-size="53.00" textLength="142.0" lengthAdjust="spacingAndGlyphs">25.00</text><text x="828.7" y="75.2" font-size="62.50" font-weight="bold" textLength="1982.0" lengthAdjust="spacingAndGlyphs">Water Temperature - mote-holly (2025-12-05 to 2025-12-12)</text><text x="1750.0" y="1724.8" font-size="53.00" font-weight="bold" textLength="136.8" lengthAdjust="spacingAndGlyphs">Time</text><text x="66.9" y="913.2" font-size="53.00" font-weight="bold" textLength="284.0" lengthAdjust="spacingAndGlyphs" transform="rotate(-90.0 66.9 913.2)">Depth (m)</text><text x="3819.9" y="1013.2" font-size="53.00" font-weight="bold" textLength="484.0" lengthAdjust="spacingAndGlyphs" transform="rotate(-90.0 3819.9 1013.2)">Temperature (°C)</text><text x="2988.4" y="1420.1" font-size="39.50" font-style="italic" fill="#4d4d4d" textLength="401.0" lengthAdjust="spacingAndGlyphs">Data source: DuckDB</text><path transform="translate(3395.0 1385.0)" d="M29.7 7.1L18.9 17.7L27.5 21.4L10.2 34.7L21.8 22.4L12.6 19Z" fill="#4d4d4d"/></svg></body></html>
